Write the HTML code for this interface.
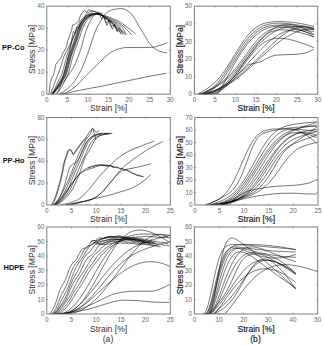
<!DOCTYPE html>
<html><head><meta charset="utf-8"><style>
html,body{margin:0;padding:0;background:#fff;width:324px;height:346px;overflow:hidden}
svg{display:block}
text{font-family:"Liberation Sans",sans-serif}
.ax{fill:none;stroke:#7d7d7d;stroke-width:1}
.tk{fill:none;stroke:#7d7d7d;stroke-width:0.8}
.tl{font-size:6.3px;fill:#666}
.labL{font-size:8.6px;fill:#333}
.labR{font-size:8.6px;fill:#222;stroke:#222;stroke-width:0.18}
.row{font-size:8px;font-weight:bold;fill:#111}
.cv path{fill:none;stroke:#000;stroke-opacity:0.6;stroke-width:0.9;stroke-linejoin:round;stroke-linecap:round}
</style></head><body>
<svg width="324" height="346" viewBox="0 0 324 346">
<g class="cv" clip-path="url(#clipTL)"><path d="M60.8 94.2C62.99 94.04 65.19 93.71 67.38 93.32C70.13 92.84 72.87 91.75 75.62 91.12C79.73 90.18 83.85 89.47 87.97 88.7C92.08 87.93 96.2 87.29 100.32 86.5C105.53 85.5 110.75 84.28 115.96 83.2C120.63 82.23 125.29 81.31 129.96 80.34C135.17 79.26 140.39 78.06 145.6 77.04C152.46 75.7 159.32 74.43 166.18 73.3"/><path d="M61.21 94.2C63.95 93.62 66.7 92.36 69.44 90.9C72.46 89.3 75.48 86.38 78.5 83.64C81.79 80.66 85.08 76.62 88.38 73.3C91.4 70.26 94.42 67.35 97.44 64.5C101.69 60.49 105.94 55.52 110.2 52.84C112.53 51.37 114.86 49.97 117.2 49.32C120.35 48.44 123.51 47.56 126.66 47.56C132.02 47.56 137.37 47.56 142.72 47.56C145.87 47.56 149.03 47.48 152.19 47.34C154.79 47.23 157.4 46.15 160.01 45.36C162.2 44.7 164.4 43.86 166.6 42.94"/><path d="M59.15 94.2C61.89 92.93 64.64 90.96 67.38 88.7C69.99 86.55 72.6 83.83 75.2 80.34C76.99 77.95 78.77 74.6 80.56 71.1C81.93 68.41 83.3 65.26 84.67 61.86C86.46 57.44 88.24 51.98 90.03 46.9C91.95 41.43 93.87 34.55 95.79 30.18C97.3 26.75 98.81 24.06 100.32 21.6C102.51 18.03 104.71 13.78 106.9 12.36C109.37 10.76 111.84 9.64 114.31 9.28C116.78 8.92 119.25 8.62 121.72 8.62C124.61 8.62 127.49 10.63 130.37 12.8C132.15 14.14 133.94 17.73 135.72 20.5C138.05 24.12 140.39 28.67 142.72 32.38C145.87 37.4 149.03 43.63 152.19 46.46C154.52 48.55 156.85 50.26 159.19 51.08C161.66 51.95 164.13 52.79 166.6 52.84"/><path d="M51.53 94.2C52.79 92.34 54.06 90.08 55.32 87.6C56.3 85.66 57.29 82.98 58.28 81C59.32 78.9 60.37 77.76 61.41 75.28C62.37 73 63.34 69.04 64.3 65.6C65.12 62.65 65.94 58.83 66.77 56.14C67.73 53 68.69 50.68 69.65 48C70.47 45.7 71.29 43.54 72.12 41.18C73.08 38.43 74.04 35.3 75 32.6C75.69 30.67 76.37 28.6 77.06 27.1C78.29 24.41 79.53 22.05 80.76 20.5C82.13 18.78 83.51 17.42 84.88 16.54C86.25 15.66 87.62 14.92 89 14.56C90.64 14.13 92.29 13.68 93.94 13.68C97.71 13.68 101.48 14.89 105.26 15.88C107.45 16.45 109.65 17.43 111.84 18.3C114.04 19.17 116.23 20 118.43 21.16C121.31 22.68 124.19 24.97 127.08 27.1C129.82 29.13 132.56 31.35 135.31 33.7"/><path d="M51.9 94.2C53.4 92.27 54.89 90.03 56.38 87.6C57.6 85.62 58.82 83.18 60.04 81C61.11 79.07 62.19 77.79 63.27 75.28C64.23 73.04 65.19 69.04 66.15 65.6C66.97 62.65 67.8 58.83 68.62 56.14C69.58 53 70.54 50.68 71.5 48C72.32 45.7 73.15 43.54 73.97 41.18C74.93 38.43 75.89 35.3 76.85 32.6C77.54 30.67 78.22 28.6 78.91 27.1C80.14 24.41 81.38 22.05 82.61 20.5C83.99 18.78 85.36 17.42 86.73 16.54C88.1 15.66 89.48 14.92 90.85 14.56C92.49 14.13 94.14 13.68 95.79 13.68C98.94 13.68 102.1 15.2 105.26 16.32C107.45 17.1 109.65 18.34 111.84 19.4C114.04 20.46 116.23 21.35 118.43 22.7C120.9 24.22 123.37 26.36 125.84 28.64C127.76 30.41 129.68 32.52 131.6 34.8"/><path d="M52.05 94.2C53.64 92.25 55.22 90.02 56.81 87.6C58.12 85.6 59.43 83.25 60.74 81C61.83 79.13 62.92 77.8 64.01 75.28C64.97 73.05 65.93 69.04 66.89 65.6C67.71 62.65 68.54 58.83 69.36 56.14C70.32 53 71.28 50.68 72.24 48C73.06 45.7 73.89 43.54 74.71 41.18C75.67 38.43 76.63 35.3 77.59 32.6C78.28 30.67 78.96 28.6 79.65 27.1C80.89 24.41 82.12 22.05 83.36 20.5C84.73 18.78 86.1 17.42 87.47 16.54C88.84 15.66 90.22 14.92 91.59 14.56C93.24 14.13 94.88 13.68 96.53 13.68C99.16 13.68 101.8 15.57 104.43 16.76C106.63 17.75 108.82 19.11 111.02 20.28C113.49 21.6 115.96 22.5 118.43 24.24C119.94 25.31 121.45 26.68 122.96 28.64C124.06 30.07 125.15 32.33 126.25 34.8"/><path d="M52.19 94.2C53.87 92.24 55.54 90 57.21 87.6C58.61 85.59 60.01 83.31 61.4 81C62.51 79.18 63.61 77.81 64.71 75.28C65.67 73.07 66.63 69.04 67.59 65.6C68.41 62.65 69.24 58.83 70.06 56.14C71.02 53 71.98 50.68 72.94 48C73.76 45.7 74.59 43.54 75.41 41.18C76.37 38.43 77.33 35.3 78.29 32.6C78.98 30.67 79.66 28.6 80.35 27.1C81.59 24.41 82.82 22.05 84.06 20.5C85.43 18.78 86.8 17.42 88.17 16.54C89.54 15.66 90.92 14.92 92.29 14.56C93.94 14.13 95.58 13.68 97.23 13.68C99.63 13.68 102.03 15.9 104.43 17.2C106.63 18.39 108.82 19.79 111.02 21.16C113.49 22.71 115.96 23.54 118.43 26C119.53 27.09 120.63 29.32 121.72 31.5"/><path d="M52.32 94.2C54.07 92.22 55.82 89.99 57.57 87.6C59.04 85.58 60.52 83.36 61.99 81C63.1 79.22 64.21 77.82 65.33 75.28C66.29 73.08 67.25 69.04 68.21 65.6C69.03 62.65 69.85 58.83 70.68 56.14C71.64 53 72.6 50.68 73.56 48C74.38 45.7 75.2 43.54 76.03 41.18C76.99 38.43 77.95 35.3 78.91 32.6C79.6 30.67 80.28 28.6 80.97 27.1C82.2 24.41 83.44 22.05 84.67 20.5C86.05 18.78 87.42 17.42 88.79 16.54C90.16 15.66 91.53 14.92 92.91 14.56C94.55 14.13 96.2 13.68 97.85 13.68C100.04 13.68 102.24 15.51 104.43 16.76C106.63 18.01 108.82 19.89 111.02 21.6C113.49 23.52 115.96 25.7 118.43 27.76C120.35 29.37 122.27 30.98 124.19 32.6"/><path d="M52.44 94.2C54.27 92.21 56.09 89.98 57.92 87.6C59.47 85.57 61.02 83.41 62.58 81C63.7 79.26 64.82 77.83 65.94 75.28C66.9 73.09 67.86 69.04 68.82 65.6C69.65 62.65 70.47 58.83 71.29 56.14C72.25 53 73.22 50.68 74.18 48C75 45.7 75.82 43.54 76.65 41.18C77.61 38.43 78.57 35.3 79.53 32.6C80.21 30.67 80.9 28.6 81.59 27.1C82.82 24.41 84.06 22.05 85.29 20.5C86.66 18.78 88.04 17.42 89.41 16.54C90.78 15.66 92.15 14.92 93.52 14.56C95.17 14.13 96.82 13.68 98.46 13.68C100.45 13.68 102.44 16.25 104.43 17.64C106.63 19.17 108.82 20.72 111.02 22.48C113.49 24.47 115.96 27 118.43 29.08C120.63 30.93 122.82 32.69 125.02 34.36"/><path d="M52.77 94.2C54.8 92.18 56.83 89.96 58.87 87.6C60.63 85.56 62.38 83.53 64.14 81C65.29 79.34 66.44 77.86 67.59 75.28C68.55 73.12 69.51 69.04 70.47 65.6C71.29 62.65 72.12 58.83 72.94 56.14C73.9 53 74.86 50.68 75.82 48C76.65 45.7 77.47 43.54 78.29 41.18C79.25 38.43 80.21 35.3 81.17 32.6C81.86 30.67 82.55 28.6 83.23 27.1C84.47 24.41 85.7 22.05 86.94 20.5C88.31 18.78 89.68 17.42 91.05 16.54C92.43 15.66 93.8 14.92 95.17 14.56C96.82 14.13 98.46 13.68 100.11 13.68C101.83 13.68 103.54 16.29 105.26 17.64C107.45 19.36 109.65 20.81 111.84 22.92C114.04 25.03 116.23 28.88 118.43 30.84C119.94 32.19 121.45 33.33 122.96 34.14"/><path d="M55.03 94.2C57.09 92.92 59.15 90.43 61.21 87.6C62.85 85.34 64.5 81.11 66.15 78.36C68.62 74.24 71.09 71.92 73.56 67.36C75.07 64.57 76.58 60.68 78.09 56.8C79.05 54.33 80.01 51.73 80.97 48.66C81.79 46.03 82.61 42.49 83.44 39.64C84.4 36.31 85.36 32.81 86.32 30.18C87.55 26.8 88.79 23.85 90.03 21.6C91.4 19.1 92.77 16.67 94.14 15.44C95.51 14.21 96.89 12.8 98.26 12.8C99.63 12.8 101 12.8 102.38 13.24"/><path d="M50.5 94.2C51.47 91.65 52.43 89.09 53.39 86.5C54.76 82.8 56.13 78.93 57.5 75.28C58.6 72.36 59.7 69.86 60.8 66.7C61.89 63.54 62.99 58.85 64.09 56.14C65.46 52.75 66.83 50.78 68.21 48C69.3 45.78 70.4 43.46 71.5 41.18C72.87 38.33 74.24 35.31 75.62 32.6C76.99 29.89 78.36 27.27 79.73 24.9C81.11 22.53 82.48 19.89 83.85 18.3C85.22 16.71 86.59 15.36 87.97 14.56C89.34 13.76 90.71 13.06 92.08 12.8"/><path d="M48.86 94.2 49.52 89.14 50.3 82.76 51.74 77.92 53.39 75.5 54.62 70.44 55.86 64.28 59.97 59.44 63.27 52.4 66.15 48 67.8 40.52 71.09 31.72 72.73 24.9 75.2 24.02 78.91 20.94 80.14 16.1 83.03 11.48 84.67 10.6 86.73 12.36 88.38 9.72 90.85 10.6 94.14 11.7 98.26 12.36"/><path d="M57.09 94.2C58.46 91.27 59.84 87.48 61.21 83.2C62.58 78.92 63.95 72.99 65.33 67.8C66.29 64.17 67.25 60.76 68.21 56.8C69.03 53.41 69.85 49.82 70.68 45.8C71.23 43.12 71.77 39.66 72.32 37C72.73 35.01 73.15 31.5 73.56 31.5C74.11 31.5 74.66 33.04 75.2 33.04C75.75 33.04 76.3 27.1 76.85 27.1C77.4 27.1 77.95 28.64 78.5 28.64C79.18 28.64 79.87 23.76 80.56 22.7C81.65 21 82.75 20.95 83.85 19.4C84.67 18.24 85.5 14.7 86.32 13.9C87.28 12.97 88.24 12.59 89.2 12.14C90.16 11.69 91.12 11.04 92.08 11.04C93.46 11.04 94.83 11.15 96.2 11.92"/><path d="M98.26 12.8 104.43 17.86 106.9 25.56 109.37 20.06 112.26 29.3 114.73 24.68 117.2 31.72 118.43 28.64 120.9 33.92"/><path d="M97.02 12.8 99.49 14.78 101.55 18.74 103.61 16.76 106.08 23.14 108.55 20.5 111.02 26.44 113.9 24.9 116.78 30.4"/></g>
<clipPath id="clipTL"><rect x="46.8" y="3.2" width="126.5" height="91"/></clipPath>
<rect class="ax" x="46.8" y="6.2" width="123.5" height="88"/>
<path class="tk" d="M67.38 94.2v-1.3M67.38 6.2v1.3M87.97 94.2v-1.3M87.97 6.2v1.3M108.55 94.2v-1.3M108.55 6.2v1.3M129.13 94.2v-1.3M129.13 6.2v1.3M149.72 94.2v-1.3M149.72 6.2v1.3M46.8 72.2h1.3M170.3 72.2h-1.3M46.8 50.2h1.3M170.3 50.2h-1.3M46.8 28.2h1.3M170.3 28.2h-1.3"/>
<text class="tl" x="46.8" y="101.7" text-anchor="middle">0</text>
<text class="tl" x="67.38" y="101.7" text-anchor="middle">5</text>
<text class="tl" x="87.97" y="101.7" text-anchor="middle">10</text>
<text class="tl" x="108.55" y="101.7" text-anchor="middle">15</text>
<text class="tl" x="129.13" y="101.7" text-anchor="middle">20</text>
<text class="tl" x="149.72" y="101.7" text-anchor="middle">25</text>
<text class="tl" x="170.3" y="101.7" text-anchor="middle">30</text>
<text class="tl" x="44.5" y="96.3" text-anchor="end">0</text>
<text class="tl" x="44.5" y="74.3" text-anchor="end">10</text>
<text class="tl" x="44.5" y="52.3" text-anchor="end">20</text>
<text class="tl" x="44.5" y="30.3" text-anchor="end">30</text>
<text class="tl" x="44.5" y="8.3" text-anchor="end">40</text>
<text class="labL" x="108.55" y="111" text-anchor="middle">Strain [%]</text>
<text class="labL" transform="translate(35.2 49.5) rotate(-90)" text-anchor="middle">Stress [MPa]</text>
<g class="cv" clip-path="url(#clipTR)"><path d="M197.69 94.2C198.1 93.97 199.33 93.27 200.15 92.81C200.98 92.34 201.8 91.88 202.62 91.4C203.44 90.92 204.26 90.44 205.09 89.93C205.91 89.42 206.73 88.9 207.55 88.34C208.37 87.78 209.2 87.2 210.02 86.58C210.84 85.95 211.66 85.3 212.48 84.6C213.31 83.9 214.13 83.16 214.95 82.37C215.77 81.57 216.59 80.74 217.42 79.85C218.24 78.96 219.06 78.02 219.88 77.03C220.7 76.04 221.53 75 222.35 73.91C223.17 72.82 223.99 71.68 224.81 70.5C225.64 69.32 226.46 68.09 227.28 66.84C228.1 65.58 228.92 64.28 229.75 62.96C230.57 61.65 231.39 60.3 232.21 58.95C233.03 57.6 233.86 56.22 234.68 54.86C235.5 53.5 236.32 52.13 237.14 50.79C237.97 49.44 238.79 48.1 239.61 46.81C240.43 45.51 241.25 44.23 242.08 43.01C242.9 41.78 243.72 40.59 244.54 39.46C245.36 38.32 246.19 37.24 247.01 36.21C247.83 35.19 248.65 34.22 249.47 33.32C250.3 32.42 251.12 31.57 251.94 30.79C252.76 30.02 253.58 29.3 254.41 28.65C255.23 27.99 256.05 27.4 256.87 26.86C257.69 26.32 258.52 25.84 259.34 25.41C260.16 24.98 260.98 24.6 261.8 24.27C262.63 23.93 263.45 23.64 264.27 23.38C265.09 23.12 265.91 22.91 266.74 22.72C267.56 22.53 268.38 22.38 269.2 22.24C270.02 22.11 270.85 22 271.67 21.91C272.49 21.82 273.31 21.76 274.13 21.7C274.96 21.65 275.78 21.62 276.6 21.59C277.42 21.57 278.24 21.56 279.07 21.56C279.89 21.56 280.71 21.57 281.53 21.59C282.35 21.61 283.18 21.64 284 21.68C284.82 21.72 285.64 21.77 286.46 21.82C287.29 21.88 288.11 21.94 288.93 22.01C289.75 22.08 290.57 22.16 291.4 22.25C292.22 22.34 293.04 22.43 293.86 22.53C294.68 22.63 295.51 22.74 296.33 22.86C297.15 22.97 297.97 23.1 298.79 23.23C299.62 23.36 300.44 23.5 301.26 23.64C302.08 23.79 302.9 23.94 303.73 24.1C304.55 24.26 305.37 24.43 306.19 24.6C307.01 24.78 307.84 24.96 308.66 25.15C309.48 25.34 310.3 25.54 311.12 25.74C311.95 25.95 313.18 26.27 313.59 26.38C314 26.48 313.59 26.38 313.59 26.38"/><path d="M198.51 94.2C199.33 94.05 200.15 93.88 200.98 93.68C201.8 93.48 202.62 93.25 203.44 92.98C204.26 92.71 205.09 92.39 205.91 92.03C206.73 91.67 207.55 91.24 208.37 90.77C209.2 90.3 210.02 89.75 210.84 89.16C211.66 88.57 212.48 87.9 213.31 87.19C214.13 86.47 214.95 85.68 215.77 84.84C216.59 84 217.42 83.09 218.24 82.13C219.06 81.17 219.88 80.14 220.7 79.07C221.53 78 222.35 76.87 223.17 75.71C223.99 74.55 224.81 73.33 225.64 72.08C226.46 70.84 227.28 69.56 228.1 68.26C228.92 66.96 229.75 65.63 230.57 64.29C231.39 62.96 232.21 61.6 233.03 60.26C233.86 58.92 234.68 57.56 235.5 56.23C236.32 54.9 237.14 53.57 237.97 52.27C238.79 50.97 239.61 49.69 240.43 48.45C241.25 47.2 242.08 45.98 242.9 44.81C243.72 43.65 244.54 42.51 245.36 41.43C246.19 40.34 247.01 39.3 247.83 38.32C248.65 37.33 249.47 36.39 250.3 35.51C251.12 34.63 251.94 33.8 252.76 33.03C253.58 32.26 254.41 31.53 255.23 30.87C256.05 30.2 256.87 29.58 257.69 29.02C258.52 28.46 259.34 27.95 260.16 27.49C260.98 27.03 261.8 26.6 262.63 26.23C263.45 25.86 264.27 25.53 265.09 25.24C265.91 24.95 266.74 24.69 267.56 24.48C268.38 24.26 269.2 24.07 270.02 23.92C270.85 23.77 271.67 23.63 272.49 23.54C273.31 23.44 274.13 23.35 274.96 23.3C275.78 23.25 276.6 23.2 277.42 23.2C278.24 23.19 279.07 23.19 279.89 23.19C280.71 23.19 281.53 23.24 282.35 23.28C283.18 23.31 284 23.37 284.82 23.43C285.64 23.49 286.46 23.57 287.29 23.65C288.11 23.72 288.93 23.81 289.75 23.91C290.57 24 291.4 24.11 292.22 24.21C293.04 24.32 293.86 24.43 294.68 24.55C295.51 24.67 296.33 24.79 297.15 24.92C297.97 25.05 298.79 25.18 299.62 25.32C300.44 25.46 301.26 25.6 302.08 25.75C302.9 25.89 303.73 26.04 304.55 26.2C305.37 26.35 306.19 26.51 307.01 26.67C307.84 26.83 308.66 27 309.48 27.17C310.3 27.34 311.12 27.51 311.95 27.69C312.49 27.8 313.04 27.92 313.59 28.05"/><path d="M199.33 94.2C200.15 94.11 200.98 93.99 201.8 93.85C202.62 93.71 203.44 93.53 204.26 93.32C205.09 93.11 205.91 92.85 206.73 92.54C207.55 92.24 208.37 91.87 209.2 91.45C210.02 91.04 210.84 90.54 211.66 90.01C212.48 89.47 213.31 88.85 214.13 88.19C214.95 87.53 215.77 86.78 216.59 85.99C217.42 85.2 218.24 84.33 219.06 83.41C219.88 82.49 220.7 81.5 221.53 80.47C222.35 79.44 223.17 78.34 223.99 77.21C224.81 76.08 225.64 74.88 226.46 73.67C227.28 72.45 228.1 71.19 228.92 69.91C229.75 68.63 230.57 67.31 231.39 65.99C232.21 64.67 233.03 63.33 233.86 61.99C234.68 60.66 235.5 59.31 236.32 57.98C237.14 56.65 237.97 55.32 238.79 54.03C239.61 52.73 240.43 51.45 241.25 50.2C242.08 48.96 242.9 47.74 243.72 46.57C244.54 45.39 245.36 44.25 246.19 43.17C247.01 42.08 247.83 41.03 248.65 40.04C249.47 39.06 250.3 38.11 251.12 37.23C251.94 36.35 252.76 35.51 253.58 34.74C254.41 33.97 255.23 33.24 256.05 32.58C256.87 31.91 257.69 31.29 258.52 30.74C259.34 30.18 260.16 29.66 260.98 29.21C261.8 28.75 262.63 28.33 263.45 27.97C264.27 27.6 265.09 27.27 265.91 26.99C266.74 26.71 267.56 26.46 268.38 26.25C269.2 26.05 270.02 25.86 270.85 25.72C271.67 25.58 272.49 25.45 273.31 25.37C274.13 25.28 274.96 25.2 275.78 25.16C276.6 25.12 277.42 25.08 278.24 25.08C279.07 25.08 279.89 25.09 280.71 25.11C281.53 25.12 282.35 25.17 283.18 25.21C284 25.26 284.82 25.32 285.64 25.39C286.46 25.46 287.29 25.54 288.11 25.62C288.93 25.71 289.75 25.8 290.57 25.9C291.4 26 292.22 26.1 293.04 26.21C293.86 26.32 294.68 26.44 295.51 26.56C296.33 26.68 297.15 26.8 297.97 26.93C298.79 27.06 299.62 27.19 300.44 27.33C301.26 27.46 302.08 27.6 302.9 27.75C303.73 27.89 304.55 28.04 305.37 28.19C306.19 28.34 307.01 28.49 307.84 28.64C308.66 28.8 309.48 28.96 310.3 29.12C311.12 29.28 311.95 29.45 312.77 29.62C313.04 29.67 313.32 29.73 313.59 29.79"/><path d="M200.15 94.2C200.98 94.2 201.8 94.2 202.62 94.2C203.44 94.2 204.26 94.2 205.09 94.2C205.91 94.2 206.73 94.2 207.55 94.2C208.37 94.2 209.2 94.2 210.02 94.2C210.84 94.2 211.66 94.2 212.48 94.2C213.31 94.2 214.13 94.2 214.95 94.2C215.77 94.2 216.59 94.17 217.42 94.11C218.24 94.05 219.06 91.54 219.88 90.17C220.7 88.81 221.53 87.37 222.35 85.91C223.17 84.46 223.99 82.96 224.81 81.46C225.64 79.95 226.46 78.42 227.28 76.9C228.1 75.38 228.92 73.85 229.75 72.33C230.57 70.82 231.39 69.31 232.21 67.82C233.03 66.34 233.86 64.86 234.68 63.43C235.5 61.99 236.32 60.57 237.14 59.19C237.97 57.82 238.79 56.47 239.61 55.16C240.43 53.86 241.25 52.59 242.08 51.37C242.9 50.14 243.72 48.96 244.54 47.82C245.36 46.69 246.19 45.59 247.01 44.55C247.83 43.51 248.65 42.51 249.47 41.56C250.3 40.61 251.12 39.71 251.94 38.86C252.76 38.01 253.58 37.2 254.41 36.44C255.23 35.68 256.05 34.97 256.87 34.31C257.69 33.64 258.52 33.02 259.34 32.45C260.16 31.88 260.98 31.34 261.8 30.86C262.63 30.38 263.45 29.93 264.27 29.53C265.09 29.13 265.91 28.76 266.74 28.44C267.56 28.12 268.38 27.83 269.2 27.58C270.02 27.34 270.85 27.11 271.67 26.93C272.49 26.76 273.31 26.6 274.13 26.48C274.96 26.37 275.78 26.26 276.6 26.21C277.42 26.16 278.24 26.1 279.07 26.1C279.89 26.1 280.71 26.11 281.53 26.12C282.35 26.14 283.18 26.21 284 26.28C284.82 26.34 285.64 26.44 286.46 26.54C287.29 26.63 288.11 26.76 288.93 26.88C289.75 27.01 290.57 27.15 291.4 27.3C292.22 27.45 293.04 27.61 293.86 27.77C294.68 27.93 295.51 28.1 296.33 28.28C297.15 28.45 297.97 28.63 298.79 28.81C299.62 28.98 300.44 29.16 301.26 29.34C302.08 29.52 302.9 29.7 303.73 29.87C304.55 30.04 305.37 30.21 306.19 30.37C307.01 30.54 307.84 30.7 308.66 30.85C309.48 30.99 310.3 31.14 311.12 31.27C311.95 31.4 312.77 31.52 313.59 31.64"/><path d="M200.98 94.2C201.8 93.74 202.62 93.29 203.44 92.84C204.26 92.39 205.09 91.96 205.91 91.52C206.73 91.08 207.55 90.64 208.37 90.2C209.2 89.76 210.02 89.32 210.84 88.87C211.66 88.42 212.48 87.97 213.31 87.5C214.13 87.03 214.95 86.55 215.77 86.05C216.59 85.54 217.42 85.03 218.24 84.49C219.06 83.94 219.88 83.38 220.7 82.79C221.53 82.2 222.35 81.58 223.17 80.93C223.99 80.28 224.81 79.59 225.64 78.87C226.46 78.16 227.28 77.4 228.1 76.62C228.92 75.83 229.75 75 230.57 74.15C231.39 73.29 232.21 72.39 233.03 71.46C233.86 70.53 234.68 69.56 235.5 68.56C236.32 67.56 237.14 66.53 237.97 65.48C238.79 64.42 239.61 63.33 240.43 62.23C241.25 61.14 242.08 60.01 242.9 58.88C243.72 57.75 244.54 56.6 245.36 55.46C246.19 54.32 247.01 53.17 247.83 52.04C248.65 50.91 249.47 49.78 250.3 48.68C251.12 47.57 251.94 46.48 252.76 45.43C253.58 44.38 254.41 43.35 255.23 42.37C256.05 41.38 256.87 40.43 257.69 39.53C258.52 38.64 259.34 37.78 260.16 36.98C260.98 36.18 261.8 35.42 262.63 34.73C263.45 34.04 264.27 33.38 265.09 32.8C265.91 32.22 266.74 31.68 267.56 31.21C268.38 30.73 269.2 30.3 270.02 29.93C270.85 29.56 271.67 29.23 272.49 28.96C273.31 28.69 274.13 28.44 274.96 28.26C275.78 28.08 276.6 27.91 277.42 27.81C278.24 27.7 279.07 27.6 279.89 27.56C280.71 27.53 281.53 27.5 282.35 27.5C283.18 27.5 284 27.55 284.82 27.59C285.64 27.63 286.46 27.72 287.29 27.81C288.11 27.89 288.93 28 289.75 28.12C290.57 28.24 291.4 28.38 292.22 28.53C293.04 28.67 293.86 28.84 294.68 29.01C295.51 29.18 296.33 29.36 297.15 29.55C297.97 29.74 298.79 29.95 299.62 30.16C300.44 30.37 301.26 30.59 302.08 30.82C302.9 31.05 303.73 31.29 304.55 31.53C305.37 31.78 306.19 32.04 307.01 32.3C307.84 32.57 308.66 32.84 309.48 33.12C310.3 33.4 311.12 33.69 311.95 33.99C312.49 34.19 313.04 34.39 313.59 34.6"/><path d="M201.8 94.2C202.62 93.77 203.44 93.34 204.26 92.92C205.09 92.5 205.91 92.09 206.73 91.68C207.55 91.26 208.37 90.86 209.2 90.44C210.02 90.03 210.84 89.62 211.66 89.2C212.48 88.78 213.31 88.35 214.13 87.91C214.95 87.47 215.77 87.02 216.59 86.55C217.42 86.08 218.24 85.6 219.06 85.09C219.88 84.58 220.7 84.05 221.53 83.49C222.35 82.93 223.17 82.35 223.99 81.73C224.81 81.11 225.64 80.46 226.46 79.78C227.28 79.1 228.1 78.38 228.92 77.62C229.75 76.87 230.57 76.07 231.39 75.24C232.21 74.42 233.03 73.55 233.86 72.64C234.68 71.74 235.5 70.8 236.32 69.83C237.14 68.86 237.97 67.85 238.79 66.82C239.61 65.79 240.43 64.72 241.25 63.64C242.08 62.56 242.9 61.45 243.72 60.34C244.54 59.23 245.36 58.09 246.19 56.97C247.01 55.84 247.83 54.71 248.65 53.59C249.47 52.47 250.3 51.35 251.12 50.26C251.94 49.17 252.76 48.09 253.58 47.05C254.41 46.01 255.23 44.99 256.05 44.03C256.87 43.06 257.69 42.12 258.52 41.24C259.34 40.36 260.16 39.51 260.98 38.73C261.8 37.95 262.63 37.21 263.45 36.54C264.27 35.87 265.09 35.24 265.91 34.68C266.74 34.12 267.56 33.6 268.38 33.15C269.2 32.7 270.02 32.29 270.85 31.95C271.67 31.61 272.49 31.3 273.31 31.05C274.13 30.8 274.96 30.58 275.78 30.42C276.6 30.26 277.42 30.12 278.24 30.04C279.07 29.96 279.89 29.86 280.71 29.86C281.53 29.85 282.35 29.85 283.18 29.85C284 29.85 284.82 29.93 285.64 29.99C286.46 30.05 287.29 30.14 288.11 30.24C288.93 30.34 289.75 30.46 290.57 30.59C291.4 30.72 292.22 30.86 293.04 31.02C293.86 31.17 294.68 31.34 295.51 31.51C296.33 31.69 297.15 31.88 297.97 32.07C298.79 32.27 299.62 32.48 300.44 32.69C301.26 32.9 302.08 33.13 302.9 33.36C303.73 33.59 304.55 33.83 305.37 34.08C306.19 34.33 307.01 34.58 307.84 34.85C308.66 35.11 309.48 35.38 310.3 35.67C311.12 35.95 311.95 36.24 312.77 36.53C313.04 36.63 313.32 36.73 313.59 36.83"/><path d="M202.62 94.2C203.44 94.13 204.26 94.03 205.09 93.92C205.91 93.81 206.73 93.66 207.55 93.49C208.37 93.31 209.2 93.1 210.02 92.86C210.84 92.62 211.66 92.32 212.48 92.01C213.31 91.69 214.13 91.32 214.95 90.91C215.77 90.51 216.59 90.06 217.42 89.58C218.24 89.09 219.06 88.56 219.88 87.99C220.7 87.42 221.53 86.8 222.35 86.15C223.17 85.5 223.99 84.8 224.81 84.08C225.64 83.35 226.46 82.58 227.28 81.78C228.1 80.98 228.92 80.14 229.75 79.28C230.57 78.41 231.39 77.51 232.21 76.59C233.03 75.67 233.86 74.72 234.68 73.76C235.5 72.79 236.32 71.79 237.14 70.79C237.97 69.79 238.79 68.76 239.61 67.74C240.43 66.71 241.25 65.66 242.08 64.62C242.9 63.58 243.72 62.53 244.54 61.48C245.36 60.44 246.19 59.39 247.01 58.35C247.83 57.31 248.65 56.28 249.47 55.26C250.3 54.24 251.12 53.23 251.94 52.24C252.76 51.25 253.58 50.27 254.41 49.32C255.23 48.37 256.05 47.44 256.87 46.53C257.69 45.63 258.52 44.74 259.34 43.89C260.16 43.03 260.98 42.2 261.8 41.41C262.63 40.61 263.45 39.84 264.27 39.11C265.09 38.38 265.91 37.67 266.74 37.01C267.56 36.34 268.38 35.7 269.2 35.1C270.02 34.5 270.85 33.93 271.67 33.4C272.49 32.87 273.31 32.36 274.13 31.9C274.96 31.43 275.78 30.99 276.6 30.59C277.42 30.2 278.24 29.82 279.07 29.49C279.89 29.15 280.71 28.84 281.53 28.56C282.35 28.29 283.18 28.04 284 27.82C284.82 27.6 285.64 27.4 286.46 27.24C287.29 27.08 288.11 26.93 288.93 26.81C289.75 26.7 290.57 26.6 291.4 26.53C292.22 26.46 293.04 26.39 293.86 26.37C294.68 26.35 295.51 26.34 296.33 26.34C297.15 26.34 297.97 26.37 298.79 26.4C299.62 26.43 300.44 26.5 301.26 26.56C302.08 26.63 302.9 26.72 303.73 26.81C304.55 26.9 305.37 27.01 306.19 27.13C307.01 27.25 307.84 27.38 308.66 27.52C309.48 27.65 310.3 27.8 311.12 27.96C311.95 28.12 312.77 28.28 313.59 28.46"/><path d="M203.44 94.2C204.26 93.95 205.09 93.7 205.91 93.45C206.73 93.2 207.55 92.96 208.37 92.71C209.2 92.45 210.02 92.2 210.84 91.93C211.66 91.66 212.48 91.38 213.31 91.08C214.13 90.78 214.95 90.46 215.77 90.12C216.59 89.78 217.42 89.41 218.24 89.01C219.06 88.62 219.88 88.19 220.7 87.73C221.53 87.27 222.35 86.76 223.17 86.23C223.99 85.7 224.81 85.12 225.64 84.5C226.46 83.89 227.28 83.22 228.1 82.52C228.92 81.83 229.75 81.08 230.57 80.3C231.39 79.51 232.21 78.68 233.03 77.82C233.86 76.96 234.68 76.05 235.5 75.11C236.32 74.18 237.14 73.2 237.97 72.2C238.79 71.2 239.61 70.17 240.43 69.13C241.25 68.09 242.08 67.01 242.9 65.94C243.72 64.87 244.54 63.78 245.36 62.71C246.19 61.63 247.01 60.54 247.83 59.48C248.65 58.41 249.47 57.35 250.3 56.32C251.12 55.29 251.94 54.28 252.76 53.3C253.58 52.33 254.41 51.38 255.23 50.48C256.05 49.59 256.87 48.72 257.69 47.91C258.52 47.1 259.34 46.32 260.16 45.62C260.98 44.91 261.8 44.24 262.63 43.63C263.45 43.03 264.27 42.47 265.09 41.98C265.91 41.48 266.74 41.03 267.56 40.64C268.38 40.26 269.2 39.91 270.02 39.63C270.85 39.34 271.67 39.09 272.49 38.9C273.31 38.71 274.13 38.54 274.96 38.44C275.78 38.34 276.6 38.23 277.42 38.22C278.24 38.21 279.07 38.2 279.89 38.2C280.71 38.2 281.53 38.28 282.35 38.35C283.18 38.42 284 38.53 284.82 38.65C285.64 38.76 286.46 38.91 287.29 39.06C288.11 39.22 288.93 39.39 289.75 39.58C290.57 39.76 291.4 39.96 292.22 40.17C293.04 40.38 293.86 40.6 294.68 40.83C295.51 41.06 296.33 41.31 297.15 41.55C297.97 41.8 298.79 42.06 299.62 42.33C300.44 42.59 301.26 42.87 302.08 43.15C302.9 43.43 303.73 43.72 304.55 44.01C305.37 44.31 306.19 44.61 307.01 44.92C307.84 45.23 308.66 45.55 309.48 45.87C310.3 46.2 311.12 46.53 311.95 46.86C312.49 47.09 313.04 47.32 313.59 47.55"/><path d="M204.26 94.2C205.09 94.2 205.91 94.2 206.73 94.2C207.55 94.2 208.37 94.2 209.2 94.2C210.02 94.2 210.84 94.2 211.66 94.2C212.48 94.2 213.31 94.2 214.13 94.2C214.95 94.2 215.77 93.6 216.59 93.22C217.42 92.83 218.24 92.33 219.06 91.83C219.88 91.32 220.7 90.76 221.53 90.17C222.35 89.58 223.17 88.95 223.99 88.29C224.81 87.63 225.64 86.93 226.46 86.21C227.28 85.49 228.1 84.73 228.92 83.96C229.75 83.19 230.57 82.38 231.39 81.56C232.21 80.75 233.03 79.9 233.86 79.05C234.68 78.2 235.5 77.32 236.32 76.44C237.14 75.56 237.97 74.66 238.79 73.75C239.61 72.85 240.43 71.93 241.25 71.01C242.08 70.09 242.9 69.17 243.72 68.24C244.54 67.31 245.36 66.38 246.19 65.45C247.01 64.51 247.83 63.58 248.65 62.65C249.47 61.73 250.3 60.8 251.12 59.88C251.94 58.97 252.76 58.05 253.58 57.15C254.41 56.25 255.23 55.35 256.05 54.47C256.87 53.58 257.69 52.71 258.52 51.85C259.34 50.99 260.16 50.15 260.98 49.32C261.8 48.49 262.63 47.68 263.45 46.88C264.27 46.09 265.09 45.31 265.91 44.56C266.74 43.81 267.56 43.07 268.38 42.36C269.2 41.65 270.02 40.96 270.85 40.3C271.67 39.64 272.49 39 273.31 38.39C274.13 37.78 274.96 37.19 275.78 36.64C276.6 36.08 277.42 35.55 278.24 35.06C279.07 34.57 279.89 34.09 280.71 33.66C281.53 33.23 282.35 32.83 283.18 32.46C284 32.1 284.82 31.76 285.64 31.46C286.46 31.17 287.29 30.9 288.11 30.68C288.93 30.46 289.75 30.25 290.57 30.11C291.4 29.97 292.22 29.83 293.04 29.78C293.86 29.73 294.68 29.68 295.51 29.68C296.33 29.68 297.15 29.75 297.97 29.82C298.79 29.89 299.62 30.06 300.44 30.22C301.26 30.38 302.08 30.62 302.9 30.87C303.73 31.13 304.55 31.45 305.37 31.79C306.19 32.14 307.01 32.54 307.84 32.98C308.66 33.41 309.48 33.91 310.3 34.44C311.12 34.97 311.95 35.56 312.77 36.18C313.04 36.38 313.32 36.6 313.59 36.82"/><path d="M205.09 94.2C205.91 93.87 206.73 93.55 207.55 93.23C208.37 92.91 209.2 92.6 210.02 92.28C210.84 91.95 211.66 91.63 212.48 91.3C213.31 90.96 214.13 90.62 214.95 90.27C215.77 89.91 216.59 89.55 217.42 89.17C218.24 88.8 219.06 88.41 219.88 88C220.7 87.6 221.53 87.18 222.35 86.74C223.17 86.31 223.99 85.85 224.81 85.39C225.64 84.92 226.46 84.44 227.28 83.93C228.1 83.43 228.92 82.91 229.75 82.38C230.57 81.85 231.39 81.29 232.21 80.72C233.03 80.15 233.86 79.57 234.68 78.96C235.5 78.36 236.32 77.74 237.14 77.1C237.97 76.47 238.79 75.81 239.61 75.15C240.43 74.48 241.25 73.8 242.08 73.1C242.9 72.4 243.72 71.69 244.54 70.96C245.36 70.24 246.19 69.5 247.01 68.75C247.83 68 248.65 67.24 249.47 66.47C250.3 65.7 251.12 64.91 251.94 64.13C252.76 63.34 253.58 62.54 254.41 61.73C255.23 60.93 256.05 60.12 256.87 59.3C257.69 58.49 258.52 57.67 259.34 56.85C260.16 56.03 260.98 55.2 261.8 54.38C262.63 53.56 263.45 52.73 264.27 51.92C265.09 51.1 265.91 50.28 266.74 49.47C267.56 48.66 268.38 47.85 269.2 47.06C270.02 46.26 270.85 45.47 271.67 44.7C272.49 43.92 273.31 43.15 274.13 42.4C274.96 41.65 275.78 40.91 276.6 40.19C277.42 39.47 278.24 38.77 279.07 38.09C279.89 37.4 280.71 36.74 281.53 36.1C282.35 35.46 283.18 34.84 284 34.25C284.82 33.66 285.64 33.09 286.46 32.56C287.29 32.03 288.11 31.52 288.93 31.05C289.75 30.58 290.57 30.13 291.4 29.72C292.22 29.32 293.04 28.94 293.86 28.62C294.68 28.29 295.51 27.98 296.33 27.74C297.15 27.49 297.97 27.26 298.79 27.11C299.62 26.95 300.44 26.79 301.26 26.74C302.08 26.7 302.9 26.66 303.73 26.66C304.55 26.66 305.37 26.78 306.19 26.88C307.01 26.99 307.84 27.2 308.66 27.42C309.48 27.64 310.3 27.95 311.12 28.29C311.95 28.62 312.77 29.04 313.59 29.5"/><path d="M205.91 94.2C206.73 93.96 207.55 93.71 208.37 93.45C209.2 93.2 210.02 92.94 210.84 92.66C211.66 92.38 212.48 92.1 213.31 91.8C214.13 91.5 214.95 91.18 215.77 90.85C216.59 90.52 217.42 90.17 218.24 89.81C219.06 89.45 219.88 89.07 220.7 88.68C221.53 88.28 222.35 87.87 223.17 87.44C223.99 87.01 224.81 86.56 225.64 86.09C226.46 85.62 227.28 85.14 228.1 84.64C228.92 84.14 229.75 83.62 230.57 83.08C231.39 82.54 232.21 81.99 233.03 81.42C233.86 80.85 234.68 80.26 235.5 79.66C236.32 79.06 237.14 78.44 237.97 77.8C238.79 77.17 239.61 76.52 240.43 75.86C241.25 75.2 242.08 74.53 242.9 73.84C243.72 73.16 244.54 72.46 245.36 71.75C246.19 71.04 247.01 70.32 247.83 69.59C248.65 68.87 249.47 68.13 250.3 67.39C251.12 66.65 251.94 65.9 252.76 65.14C253.58 64.39 254.41 63.63 255.23 62.87C256.05 62.11 256.87 61.35 257.69 60.58C258.52 59.82 259.34 59.06 260.16 58.29C260.98 57.53 261.8 56.77 262.63 56.01C263.45 55.26 264.27 54.5 265.09 53.76C265.91 53.01 266.74 52.27 267.56 51.54C268.38 50.81 269.2 50.08 270.02 49.37C270.85 48.65 271.67 47.95 272.49 47.26C273.31 46.57 274.13 45.89 274.96 45.22C275.78 44.56 276.6 43.9 277.42 43.27C278.24 42.64 279.07 42.01 279.89 41.41C280.71 40.81 281.53 40.22 282.35 39.66C283.18 39.1 284 38.55 284.82 38.02C285.64 37.5 286.46 36.99 287.29 36.5C288.11 36.02 288.93 35.56 289.75 35.12C290.57 34.68 291.4 34.26 292.22 33.86C293.04 33.47 293.86 33.1 294.68 32.75C295.51 32.41 296.33 32.08 297.15 31.78C297.97 31.49 298.79 31.21 299.62 30.96C300.44 30.72 301.26 30.49 302.08 30.29C302.9 30.1 303.73 29.92 304.55 29.78C305.37 29.63 306.19 29.5 307.01 29.41C307.84 29.32 308.66 29.23 309.48 29.2C310.3 29.17 311.12 29.14 311.95 29.14C312.49 29.14 313.04 29.15 313.59 29.18"/><path d="M202.62 94.2C203.44 94.2 204.26 94.2 205.09 94.2C205.91 94.2 206.73 94.2 207.55 94.2C208.37 94.2 209.2 94.2 210.02 94.2C210.84 94.2 211.66 93.96 212.48 93.78C213.31 93.6 214.13 93.3 214.95 93C215.77 92.69 216.59 92.31 217.42 91.9C218.24 91.49 219.06 91 219.88 90.48C220.7 89.96 221.53 89.37 222.35 88.75C223.17 88.12 223.99 87.43 224.81 86.71C225.64 85.98 226.46 85.19 227.28 84.37C228.1 83.55 228.92 82.67 229.75 81.76C230.57 80.85 231.39 79.89 232.21 78.91C233.03 77.92 233.86 76.89 234.68 75.84C235.5 74.78 236.32 73.69 237.14 72.59C237.97 71.48 238.79 70.34 239.61 69.19C240.43 68.05 241.25 66.87 242.08 65.7C242.9 64.52 243.72 63.33 244.54 62.14C245.36 60.96 246.19 59.76 247.01 58.57C247.83 57.38 248.65 56.19 249.47 55.02C250.3 53.85 251.12 52.68 251.94 51.54C252.76 50.39 253.58 49.26 254.41 48.15C255.23 47.05 256.05 45.96 256.87 44.91C257.69 43.86 258.52 42.83 259.34 41.84C260.16 40.85 260.98 39.88 261.8 38.97C262.63 38.05 263.45 37.16 264.27 36.32C265.09 35.48 265.91 34.67 266.74 33.91C267.56 33.16 268.38 32.43 269.2 31.77C270.02 31.1 270.85 30.47 271.67 29.89C272.49 29.31 273.31 28.77 274.13 28.29C274.96 27.81 275.78 27.36 276.6 26.97C277.42 26.58 278.24 26.22 279.07 25.92C279.89 25.62 280.71 25.35 281.53 25.15C282.35 24.94 283.18 24.75 284 24.64C284.82 24.52 285.64 24.39 286.46 24.38C287.29 24.37 288.11 24.36 288.93 24.36C289.75 24.36 290.57 24.48 291.4 24.58C292.22 24.67 293.04 24.83 293.86 25C294.68 25.17 295.51 25.39 296.33 25.63C297.15 25.86 297.97 26.14 298.79 26.43C299.62 26.73 300.44 27.06 301.26 27.41C302.08 27.76 302.9 28.14 303.73 28.54C304.55 28.93 305.37 29.36 306.19 29.8C307.01 30.24 307.84 30.71 308.66 31.19C309.48 31.68 310.3 32.18 311.12 32.7C311.95 33.22 312.77 33.76 313.59 34.31"/><path d="M202.62 94.2C205.36 94.2 208.1 93.68 210.84 93.14C213.58 92.61 216.32 91.24 219.06 89.8C221.8 88.36 224.54 85.95 227.28 83.64C230.02 81.33 232.76 78.03 235.5 75.72C238.24 73.41 240.98 71.8 243.72 69.56C245.64 67.99 247.56 65.22 249.47 64.46C252.9 63.09 256.32 63.1 259.75 61.99C263.04 60.92 266.32 58.22 269.61 57.06C271.94 56.25 274.27 55.33 276.6 55.13C280.3 54.81 284 54.75 287.7 54.6C290.85 54.47 294 54.44 297.15 54.25C299.89 54.08 302.63 53.51 305.37 52.84C308.11 52.17 310.85 50.85 313.59 49.32"/></g>
<clipPath id="clipTR"><rect x="194.4" y="3.2" width="126.3" height="91"/></clipPath>
<rect class="ax" x="194.4" y="6.2" width="123.3" height="88"/>
<path class="tk" d="M214.95 94.2v-1.3M214.95 6.2v1.3M235.5 94.2v-1.3M235.5 6.2v1.3M256.05 94.2v-1.3M256.05 6.2v1.3M276.6 94.2v-1.3M276.6 6.2v1.3M297.15 94.2v-1.3M297.15 6.2v1.3M194.4 76.6h1.3M317.7 76.6h-1.3M194.4 59h1.3M317.7 59h-1.3M194.4 41.4h1.3M317.7 41.4h-1.3M194.4 23.8h1.3M317.7 23.8h-1.3"/>
<text class="tl" x="194.4" y="101.7" text-anchor="middle">0</text>
<text class="tl" x="214.95" y="101.7" text-anchor="middle">5</text>
<text class="tl" x="235.5" y="101.7" text-anchor="middle">10</text>
<text class="tl" x="256.05" y="101.7" text-anchor="middle">15</text>
<text class="tl" x="276.6" y="101.7" text-anchor="middle">20</text>
<text class="tl" x="297.15" y="101.7" text-anchor="middle">25</text>
<text class="tl" x="317.7" y="101.7" text-anchor="middle">30</text>
<text class="tl" x="192.1" y="96.3" text-anchor="end">0</text>
<text class="tl" x="192.1" y="78.7" text-anchor="end">10</text>
<text class="tl" x="192.1" y="61.1" text-anchor="end">20</text>
<text class="tl" x="192.1" y="43.5" text-anchor="end">30</text>
<text class="tl" x="192.1" y="25.9" text-anchor="end">40</text>
<text class="tl" x="192.1" y="8.3" text-anchor="end">50</text>
<text class="labR" x="256.05" y="111" text-anchor="middle">Strain [%]</text>
<text class="labR" transform="translate(182.8 49.5) rotate(-90)" text-anchor="middle">Stress [MPa]</text>
<g class="cv" clip-path="url(#clipML)"><path d="M51.25 205C52.4 203.54 53.55 201.17 54.7 198.44C55.86 195.7 57.01 191.48 58.16 187.5C59.31 183.52 60.47 179.39 61.62 174.38C62.44 170.79 63.27 165.08 64.09 162.02C64.91 158.95 65.74 157.09 66.56 154.69C67.05 153.25 67.55 150.81 68.04 150.42C68.7 149.9 69.36 149.55 70.02 149.55C70.51 149.55 71.01 150.66 71.5 151.41C71.99 152.16 72.49 154.25 72.98 154.25C73.48 154.25 73.97 153.15 74.46 152.5C75.12 151.64 75.78 150.5 76.44 149.55C78.09 147.18 79.73 144.85 81.38 142.77C83.03 140.68 84.67 139.15 86.32 136.97C87.97 134.78 89.61 130.85 91.26 129.42C91.75 128.99 92.25 128.44 92.74 128.44C93.4 128.44 94.06 130.79 94.72 131.28C95.38 131.77 96.04 132.27 96.69 132.27C97.35 132.27 98.01 131.5 98.67 130.41" stroke-width="0.9"/><path d="M51.84 205.33C52.99 203.87 54.14 201.5 55.3 198.77C56.45 196.03 57.6 191.81 58.75 187.83C59.91 183.85 61.06 179.72 62.21 174.7C63.04 171.12 63.86 165.41 64.68 162.34C65.51 159.28 66.33 157.42 67.15 155.02C67.65 153.57 68.14 151.14 68.63 150.75C69.29 150.23 69.95 149.88 70.61 149.88C71.1 149.88 71.6 150.98 72.09 151.73C72.59 152.48 73.08 154.58 73.57 154.58C74.07 154.58 74.56 153.48 75.06 152.83C75.72 151.96 76.37 150.82 77.03 149.88C78.68 147.5 80.33 145.18 81.97 143.09C83.62 141.01 85.27 139.07 86.91 137.3"/><path d="M52.73 205C54.54 203.85 56.35 201.85 58.16 199.53C59.97 197.22 61.78 193.44 63.6 190.02C65.08 187.21 66.56 184.27 68.04 180.94C69.36 177.98 70.68 174.46 71.99 171.09C73.15 168.15 74.3 164.98 75.45 162.02C76.28 159.9 77.1 157.73 77.92 155.78C79.07 153.05 80.23 150.41 81.38 148.12C83.03 144.86 84.67 141.92 86.32 139.38C87.64 137.34 88.95 136.19 90.27 133.91C91.1 132.48 91.92 128.44 92.74 128.44C93.24 128.44 93.73 132.08 94.22 133.91C94.72 135.73 95.21 137.55 95.71 139.38"/><path d="M53.72 205C55.69 203.85 57.67 201.85 59.64 199.53C61.62 197.22 63.6 193.79 65.57 190.02C66.89 187.5 68.21 184.09 69.52 180.94C70.84 177.79 72.16 174.24 73.48 171.09C74.79 167.95 76.11 164.93 77.43 162.02C78.75 159.1 80.06 156.45 81.38 153.59C83.03 150.02 84.67 145.09 86.32 142.66C87.97 140.23 89.61 138.26 91.26 137.19C93.73 135.58 96.2 134.39 98.67 133.91C100.32 133.58 101.96 133.25 103.61 133.25C105.09 133.25 106.57 133.25 108.06 133.25"/><path d="M54.7 205C56.84 203.72 58.99 201.78 61.13 199.53C63.43 197.11 65.74 194.33 68.04 190.02C69.19 187.86 70.35 183.89 71.5 180.94C72.82 177.57 74.13 174.19 75.45 171.09C76.93 167.62 78.42 164.7 79.9 161.25C81.38 157.8 82.86 153.55 84.34 150.31C85.83 147.07 87.31 143.53 88.79 141.56C90.44 139.37 92.08 137.5 93.73 136.64C96.2 135.35 98.67 134.52 101.14 134.12C102.79 133.86 104.43 133.67 106.08 133.58C108.06 133.47 110.03 133.36 112.01 133.36"/><path d="M55.69 205C58 203.73 60.3 201.78 62.61 199.53C65.08 197.12 67.55 194.2 70.02 190.02C71.34 187.78 72.65 184.09 73.97 180.94C75.29 177.79 76.6 174.19 77.92 171.09C79.4 167.62 80.89 164.53 82.37 161.25C84.01 157.6 85.66 153.74 87.31 150.31C88.79 147.23 90.27 143.42 91.75 141.56C93.57 139.29 95.38 137.55 97.19 136.64C99.33 135.57 101.47 134.8 103.61 134.45C105.26 134.18 106.9 133.92 108.55 133.91"/><path d="M56.68 205C59.15 203.73 61.62 201.79 64.09 199.53C66.72 197.13 69.36 194.1 71.99 190.02C73.48 187.72 74.96 184.27 76.44 180.94C77.76 177.98 79.07 174.65 80.39 171.09C81.87 167.1 83.36 161.08 84.84 157.97C86.48 154.51 88.13 152.82 89.78 149.98C91.75 146.59 93.73 141.01 95.71 139.05C97.52 137.25 99.33 135.93 101.14 135.33C102.79 134.78 104.43 134.51 106.08 134.23C107.73 133.96 109.37 133.72 111.02 133.58"/><path d="M54.21 205C55.86 203.72 57.5 201.27 59.15 198.44C60.8 195.61 62.44 191.17 64.09 186.41C65.24 183.07 66.4 178.08 67.55 174.38C68.37 171.73 69.19 168.19 70.02 166.94C71.01 165.44 71.99 164.58 72.98 163.98C73.81 163.49 74.63 163.41 75.45 162.89C76.28 162.37 77.1 161.35 77.92 160.16C79.07 158.49 80.23 154.93 81.38 152.5C83.03 149.04 84.67 145 86.32 142.66C87.97 140.31 89.61 138.4 91.26 137.19C92.91 135.97 94.55 134.97 96.2 134.45C97.85 133.93 99.49 133.45 101.14 133.36"/><path d="M54.21 205C56.19 203.68 58.16 201.74 60.14 199.53C61.95 197.51 63.76 194.35 65.57 191.88C67.22 189.62 68.87 187.44 70.51 185.31C71.66 183.82 72.82 182.5 73.97 180.94C75.12 179.38 76.28 177.23 77.43 175.91C78.75 174.39 80.06 173.23 81.38 172.19C83.69 170.36 85.99 168.46 88.3 167.59C92.08 166.16 95.87 164.75 99.66 164.75C102.79 164.75 105.92 165.2 109.04 165.62C112.67 166.12 116.29 167.49 119.91 168.47C123.21 169.36 126.5 169.84 129.79 171.2C131.11 171.75 132.43 173.25 133.74 173.83C137.04 175.26 140.33 176.66 143.62 176.78" stroke-width="0.9"/><path d="M88.3 167.94 90.03 167.85 91.75 166.43 93.48 167.14 95.21 165.79 96.94 165.69 98.67 165.87 100.4 164.8 102.13 165.89 103.86 165.27 105.59 166.15 107.31 166.27 109.04 165.77 110.77 165.43 112.5 167.27 114.23 167.53 115.96 167.18 117.69 167.01 119.42 168.19 121.15 169.01 122.88 168.35 124.6 170.66 126.33 169.54 128.06 171.14 129.79 171.9 131.52 173.1 133.25 173.88 134.98 173.57 136.71 175.34 138.44 175.07 140.17 175.47 141.9 176.52" stroke-width="0.6"/><path d="M55.2 205C57.17 203.68 59.15 201.74 61.13 199.53C62.94 197.51 64.75 194.55 66.56 191.88C68.21 189.44 69.85 186.57 71.5 184.22C73.15 181.86 74.79 179.54 76.44 177.66C77.92 175.96 79.4 174.28 80.89 173.17C82.7 171.82 84.51 170.74 86.32 170C88.95 168.92 91.59 168.52 94.22 167.59C96.04 166.96 97.85 165.52 99.66 165.41C101.8 165.27 103.94 165.19 106.08 165.19C108.55 165.19 111.02 165.89 113.49 166.72"/><path d="M60.14 205C63.1 204.56 66.07 203.85 69.03 203.03C71.83 202.26 74.63 201.39 77.43 199.97C81.22 198.04 85 193.69 88.79 189.69C92.41 185.86 96.04 180 99.66 175.91C102.46 172.74 105.26 170.03 108.06 167.27C110.86 164.5 113.65 161.51 116.45 159.28C120.24 156.27 124.03 153.6 127.82 151.62C131.77 149.56 135.72 148.18 139.67 146.59C144.28 144.74 148.89 142.98 153.5 141.34"/><path d="M65.08 205C68.87 204.29 72.65 203.56 76.44 202.81C81.05 201.9 85.66 201.42 90.27 199.97C93.4 198.98 96.53 196.81 99.66 194.39C102.13 192.48 104.6 189.21 107.07 186.41C109.21 183.98 111.35 181.33 113.49 178.75C116.29 175.37 119.09 171.2 121.89 168.47C125.84 164.62 129.79 161.96 133.74 159.06C138.35 155.68 142.97 152.43 147.58 149.66C152.52 146.68 157.46 143.97 162.4 141.67"/><path d="M66.07 205C69.85 204.35 73.64 203.61 77.43 202.81C82.04 201.84 86.65 201.18 91.26 199.53C94.39 198.42 97.52 196.08 100.65 193.52C103.12 191.49 105.59 188.15 108.06 185.31C110.2 182.85 112.34 179.9 114.48 177.66C116.62 175.41 118.76 172.91 120.9 171.64C122.55 170.67 124.19 169.91 125.84 169.45C128.31 168.77 130.78 168.54 133.25 168.03C136.54 167.36 139.84 166.64 143.13 165.84C145.6 165.24 148.07 164.58 150.54 163.88"/><path d="M69.03 205C72.32 204.41 75.62 203.66 78.91 202.81C82.04 202.01 85.17 200.78 88.3 199.97C94.88 198.25 101.47 197.31 108.06 195.59C111.51 194.69 114.97 193.48 118.43 192.42C122.22 191.26 126 190.4 129.79 188.92C133.41 187.5 137.04 185.5 140.66 183.12C143.95 180.97 147.25 178.07 150.54 174.81" stroke-width="0.9"/></g>
<clipPath id="clipML"><rect x="46.8" y="114.5" width="126.5" height="90.5"/></clipPath>
<rect class="ax" x="46.8" y="117.5" width="123.5" height="87.5"/>
<path class="tk" d="M71.5 205v-1.3M71.5 117.5v1.3M96.2 205v-1.3M96.2 117.5v1.3M120.9 205v-1.3M120.9 117.5v1.3M145.6 205v-1.3M145.6 117.5v1.3M46.8 183.12h1.3M170.3 183.12h-1.3M46.8 161.25h1.3M170.3 161.25h-1.3M46.8 139.38h1.3M170.3 139.38h-1.3"/>
<text class="tl" x="46.8" y="212.5" text-anchor="middle">0</text>
<text class="tl" x="71.5" y="212.5" text-anchor="middle">5</text>
<text class="tl" x="96.2" y="212.5" text-anchor="middle">10</text>
<text class="tl" x="120.9" y="212.5" text-anchor="middle">15</text>
<text class="tl" x="145.6" y="212.5" text-anchor="middle">20</text>
<text class="tl" x="170.3" y="212.5" text-anchor="middle">25</text>
<text class="tl" x="44.5" y="207.1" text-anchor="end">0</text>
<text class="tl" x="44.5" y="185.22" text-anchor="end">20</text>
<text class="tl" x="44.5" y="163.35" text-anchor="end">40</text>
<text class="tl" x="44.5" y="141.47" text-anchor="end">60</text>
<text class="tl" x="44.5" y="119.6" text-anchor="end">80</text>
<text class="labL" x="108.55" y="222.2" text-anchor="middle">Strain [%]</text>
<text class="labL" transform="translate(35.2 160.55) rotate(-90)" text-anchor="middle">Stress [MPa]</text>
<g class="cv" clip-path="url(#clipMR)"><path d="M204.66 205C205.64 204.67 206.63 204.34 207.61 204.01C208.6 203.67 209.58 203.35 210.57 203C211.56 202.65 212.54 202.3 213.53 201.89C214.51 201.48 215.5 201.05 216.48 200.54C217.47 200.04 218.45 199.47 219.44 198.82C220.43 198.17 221.41 197.41 222.4 196.56C223.38 195.71 224.37 194.72 225.35 193.62C226.34 192.52 227.32 191.26 228.31 189.89C229.3 188.51 230.28 186.96 231.27 185.3C232.25 183.65 233.24 181.8 234.22 179.89C235.21 177.97 236.2 175.89 237.18 173.77C238.17 171.65 239.15 169.39 240.14 167.16C241.12 164.93 242.11 162.61 243.09 160.38C244.08 158.15 245.07 155.89 246.05 153.78C247.04 151.67 248.02 149.58 249.01 147.7C249.99 145.82 250.98 144.01 251.96 142.44C252.95 140.86 253.94 139.39 254.92 138.15C255.91 136.92 256.89 135.79 257.88 134.89C258.86 133.98 259.85 133.18 260.84 132.56C261.82 131.94 262.81 131.41 263.79 131.01C264.78 130.61 265.76 130.28 266.75 130.04C267.73 129.8 268.72 129.6 269.71 129.46C270.69 129.32 271.68 129.21 272.66 129.13C273.65 129.05 274.63 128.99 275.62 128.94C276.6 128.9 277.59 128.87 278.58 128.85C279.56 128.83 280.55 128.82 281.53 128.82C282.52 128.82 283.5 128.82 284.49 128.83C285.48 128.83 286.46 128.86 287.45 128.88C288.43 128.9 289.42 128.94 290.4 128.97C291.39 129.01 292.37 129.05 293.36 129.1C294.35 129.15 295.33 129.21 296.32 129.27C297.3 129.34 298.29 129.41 299.27 129.48C300.26 129.56 301.24 129.64 302.23 129.73C303.22 129.82 304.2 129.91 305.19 130.01C306.17 130.11 307.16 130.22 308.14 130.34C309.13 130.45 310.12 130.57 311.1 130.7C312.09 130.82 313.07 130.96 314.06 131.1C314.88 131.21 315.7 131.34 316.52 131.46"/><path d="M207.12 205C208.11 204.48 209.09 203.98 210.08 203.48C211.06 202.97 212.05 202.48 213.03 201.99C214.02 201.5 215 201.02 215.99 200.54C216.98 200.06 217.96 199.59 218.95 199.1C219.93 198.62 220.92 198.14 221.9 197.63C222.89 197.11 223.88 196.6 224.86 196.02C225.85 195.44 226.83 194.84 227.82 194.15C228.8 193.46 229.79 192.69 230.77 191.81C231.76 190.93 232.75 189.92 233.73 188.76C234.72 187.61 235.7 186.26 236.69 184.74C237.67 183.22 238.66 181.45 239.64 179.52C240.63 177.59 241.62 175.35 242.6 173.03C243.59 170.7 244.57 168.07 245.56 165.46C246.54 162.86 247.53 160.02 248.52 157.38C249.5 154.74 250.49 151.99 251.47 149.61C252.46 147.24 253.44 144.89 254.43 143.03C255.41 141.17 256.4 139.45 257.39 138.2C258.37 136.94 259.36 135.87 260.34 135.12C261.33 134.37 262.31 133.78 263.3 133.34C264.28 132.9 265.27 132.58 266.26 132.28C267.24 131.99 268.23 131.76 269.21 131.53C270.2 131.3 271.18 131.09 272.17 130.88C273.16 130.68 274.14 130.48 275.13 130.29C276.11 130.1 277.1 129.92 278.08 129.75C279.07 129.57 280.05 129.4 281.04 129.24C282.03 129.08 283.01 128.93 284 128.78C284.98 128.63 285.97 128.49 286.95 128.36C287.94 128.23 288.92 128.1 289.91 127.99C290.9 127.87 291.88 127.75 292.87 127.65C293.85 127.55 294.84 127.45 295.82 127.36C296.81 127.27 297.8 127.19 298.78 127.11C299.77 127.03 300.75 126.96 301.74 126.9C302.72 126.84 303.71 126.79 304.69 126.74C305.68 126.69 306.67 126.65 307.65 126.62C308.64 126.59 309.62 126.56 310.61 126.54C311.59 126.52 312.58 126.5 313.56 126.5C314.55 126.5 315.54 126.5 316.52 126.51"/><path d="M209.58 205C210.57 204.67 211.56 204.35 212.54 204.02C213.53 203.69 214.51 203.37 215.5 203.03C216.48 202.69 217.47 202.35 218.45 201.98C219.44 201.61 220.43 201.22 221.41 200.8C222.4 200.38 223.38 199.93 224.37 199.43C225.35 198.93 226.34 198.38 227.32 197.78C228.31 197.18 229.3 196.51 230.28 195.78C231.27 195.05 232.25 194.23 233.24 193.35C234.22 192.47 235.21 191.49 236.2 190.44C237.18 189.4 238.17 188.24 239.15 187.02C240.14 185.79 241.12 184.46 242.11 183.06C243.09 181.66 244.08 180.16 245.07 178.6C246.05 177.04 247.04 175.39 248.02 173.7C249.01 172.01 249.99 170.24 250.98 168.47C251.96 166.69 252.95 164.85 253.94 163.03C254.92 161.22 255.91 159.37 256.89 157.57C257.88 155.77 258.86 153.96 259.85 152.24C260.84 150.51 261.82 148.81 262.81 147.21C263.79 145.61 264.78 144.05 265.76 142.62C266.75 141.19 267.73 139.82 268.72 138.59C269.71 137.35 270.69 136.19 271.68 135.16C272.66 134.12 273.65 133.17 274.63 132.33C275.62 131.5 276.6 130.74 277.59 130.09C278.58 129.43 279.56 128.84 280.55 128.34C281.53 127.84 282.52 127.39 283.5 127.01C284.49 126.63 285.48 126.29 286.46 126C287.45 125.71 288.43 125.45 289.42 125.22C290.4 125 291.39 124.8 292.37 124.61C293.36 124.43 294.35 124.27 295.33 124.12C296.32 123.96 297.3 123.82 298.29 123.69C299.27 123.56 300.26 123.43 301.24 123.31C302.23 123.19 303.22 123.08 304.2 122.97C305.19 122.86 306.17 122.76 307.16 122.66C308.14 122.56 309.13 122.46 310.12 122.37C311.1 122.28 312.09 122.19 313.07 122.1C314.06 122.01 315.04 121.93 316.03 121.85C316.19 121.84 316.36 121.83 316.52 121.81"/><path d="M209.58 205C210.57 204.86 211.56 204.71 212.54 204.55C213.53 204.39 214.51 204.25 215.5 204.06C216.48 203.88 217.47 203.68 218.45 203.45C219.44 203.21 220.43 202.93 221.41 202.61C222.4 202.29 223.38 201.91 224.37 201.48C225.35 201.05 226.34 200.55 227.32 200C228.31 199.44 229.3 198.8 230.28 198.1C231.27 197.4 232.25 196.61 233.24 195.76C234.22 194.91 235.21 193.96 236.2 192.95C237.18 191.94 238.17 190.84 239.15 189.68C240.14 188.51 241.12 187.26 242.11 185.95C243.09 184.64 244.08 183.25 245.07 181.81C246.05 180.38 247.04 178.87 248.02 177.33C249.01 175.79 249.99 174.18 250.98 172.57C251.96 170.95 252.95 169.29 253.94 167.63C254.92 165.97 255.91 164.28 256.89 162.62C257.88 160.95 258.86 159.27 259.85 157.64C260.84 156.01 261.82 154.38 262.81 152.82C263.79 151.25 264.78 149.71 265.76 148.25C266.75 146.79 267.73 145.37 268.72 144.04C269.71 142.72 270.69 141.44 271.68 140.28C272.66 139.11 273.65 138 274.63 137.02C275.62 136.03 276.6 135.11 277.59 134.32C278.58 133.53 279.56 132.79 280.55 132.2C281.53 131.6 282.52 131.06 283.5 130.66C284.49 130.27 285.48 129.9 286.46 129.71C287.45 129.51 288.43 129.29 289.42 129.29C290.4 129.29 291.39 129.33 292.37 129.39C293.36 129.44 294.35 129.71 295.33 129.94C296.32 130.18 297.3 130.53 298.29 130.91C299.27 131.28 300.26 131.74 301.24 132.22C302.23 132.71 303.22 133.27 304.2 133.85C305.19 134.43 306.17 135.07 307.16 135.74C308.14 136.4 309.13 137.11 310.12 137.85C311.1 138.58 312.09 139.35 313.07 140.14C314.06 140.93 315.04 141.76 316.03 142.6C316.19 142.74 316.36 142.88 316.52 143.02"/><path d="M212.05 205C213.03 204.91 214.02 204.8 215 204.67C215.99 204.55 216.98 204.41 217.96 204.24C218.95 204.08 219.93 203.87 220.92 203.63C221.9 203.38 222.89 203.08 223.88 202.74C224.86 202.4 225.85 201.99 226.83 201.53C227.82 201.07 228.8 200.53 229.79 199.93C230.77 199.33 231.76 198.64 232.75 197.9C233.73 197.15 234.72 196.31 235.7 195.41C236.69 194.51 237.67 193.51 238.66 192.46C239.64 191.4 240.63 190.25 241.62 189.05C242.6 187.85 243.59 186.56 244.57 185.23C245.56 183.9 246.54 182.48 247.53 181.04C248.52 179.6 249.5 178.1 250.49 176.58C251.47 175.06 252.46 173.49 253.44 171.92C254.43 170.35 255.41 168.75 256.4 167.17C257.39 165.59 258.37 164 259.36 162.44C260.34 160.89 261.33 159.33 262.31 157.83C263.3 156.33 264.28 154.86 265.27 153.44C266.26 152.03 267.24 150.65 268.23 149.35C269.21 148.05 270.2 146.8 271.18 145.62C272.17 144.45 273.16 143.33 274.14 142.3C275.13 141.26 276.11 140.28 277.1 139.38C278.08 138.49 279.07 137.65 280.05 136.88C281.04 136.12 282.03 135.41 283.01 134.77C284 134.14 284.98 133.55 285.97 133.02C286.95 132.49 287.94 132.01 288.92 131.57C289.91 131.14 290.9 130.74 291.88 130.39C292.87 130.03 293.85 129.7 294.84 129.41C295.82 129.11 296.81 128.84 297.8 128.59C298.78 128.34 299.77 128.12 300.75 127.9C301.74 127.69 302.72 127.49 303.71 127.3C304.69 127.1 305.68 126.93 306.67 126.75C307.65 126.58 308.64 126.41 309.62 126.25C310.61 126.08 311.59 125.93 312.58 125.77C313.56 125.61 314.55 125.46 315.54 125.3C315.86 125.25 316.19 125.2 316.52 125.15"/><path d="M212.05 205C213.03 205 214.02 205 215 205C215.99 205 216.98 205 217.96 205C218.95 205 219.93 204.99 220.92 204.97C221.9 204.96 222.89 204.65 223.88 204.42C224.86 204.18 225.85 203.84 226.83 203.46C227.82 203.08 228.8 202.6 229.79 202.07C230.77 201.53 231.76 200.89 232.75 200.2C233.73 199.5 234.72 198.7 235.7 197.84C236.69 196.98 237.67 196.01 238.66 194.99C239.64 193.98 240.63 192.86 241.62 191.69C242.6 190.52 243.59 189.26 244.57 187.96C245.56 186.66 246.54 185.28 247.53 183.87C248.52 182.46 249.5 180.98 250.49 179.48C251.47 177.99 252.46 176.44 253.44 174.89C254.43 173.34 255.41 171.75 256.4 170.18C257.39 168.61 258.37 167.01 259.36 165.45C260.34 163.89 261.33 162.32 262.31 160.8C263.3 159.28 264.28 157.77 265.27 156.32C266.26 154.87 267.24 153.44 268.23 152.09C269.21 150.74 270.2 149.42 271.18 148.19C272.17 146.96 273.16 145.77 274.14 144.68C275.13 143.59 276.11 142.55 277.1 141.6C278.08 140.66 279.07 139.77 280.05 138.98C281.04 138.19 282.03 137.46 283.01 136.83C284 136.2 284.98 135.61 285.97 135.14C286.95 134.66 287.94 134.23 288.92 133.9C289.91 133.57 290.9 133.27 291.88 133.08C292.87 132.89 293.85 132.69 294.84 132.64C295.82 132.59 296.81 132.55 297.8 132.55C298.78 132.55 299.77 132.66 300.75 132.76C301.74 132.86 302.72 133.05 303.71 133.24C304.69 133.43 305.68 133.68 306.67 133.94C307.65 134.2 308.64 134.5 309.62 134.82C310.61 135.14 311.59 135.5 312.58 135.86C313.56 136.23 314.55 136.63 315.54 137.03C315.86 137.17 316.19 137.31 316.52 137.45"/><path d="M214.51 205C215.5 204.91 216.48 204.8 217.47 204.68C218.45 204.57 219.44 204.44 220.43 204.29C221.41 204.15 222.4 203.97 223.38 203.77C224.37 203.57 225.35 203.32 226.34 203.04C227.32 202.77 228.31 202.43 229.3 202.06C230.28 201.68 231.27 201.23 232.25 200.74C233.24 200.25 234.22 199.68 235.21 199.05C236.2 198.42 237.18 197.71 238.17 196.93C239.15 196.16 240.14 195.29 241.12 194.37C242.11 193.44 243.09 192.42 244.08 191.34C245.07 190.26 246.05 189.09 247.04 187.86C248.02 186.64 249.01 185.32 249.99 183.97C250.98 182.61 251.96 181.17 252.95 179.71C253.94 178.24 254.92 176.71 255.91 175.17C256.89 173.62 257.88 172.03 258.86 170.44C259.85 168.85 260.84 167.22 261.82 165.63C262.81 164.03 263.79 162.42 264.78 160.85C265.76 159.28 266.75 157.72 267.73 156.22C268.72 154.72 269.71 153.24 270.69 151.83C271.68 150.42 272.66 149.05 273.65 147.76C274.63 146.48 275.62 145.24 276.6 144.08C277.59 142.93 278.58 141.83 279.56 140.81C280.55 139.8 281.53 138.84 282.52 137.96C283.5 137.09 284.49 136.27 285.48 135.52C286.46 134.77 287.45 134.07 288.43 133.44C289.42 132.8 290.4 132.21 291.39 131.67C292.37 131.13 293.36 130.64 294.35 130.17C295.33 129.71 296.32 129.28 297.3 128.88C298.29 128.47 299.27 128.1 300.26 127.73C301.24 127.37 302.23 127.03 303.22 126.7C304.2 126.37 305.19 126.05 306.17 125.74C307.16 125.42 308.14 125.12 309.13 124.81C310.12 124.51 311.1 124.21 312.09 123.91C313.07 123.61 314.06 123.31 315.04 123.02C315.54 122.87 316.03 122.72 316.52 122.57"/><path d="M214.51 205C215.5 205 216.48 205 217.47 205C218.45 205 219.44 205 220.43 205C221.41 205 222.4 205 223.38 205C224.37 205 225.35 204.81 226.34 204.64C227.32 204.47 228.31 204.15 229.3 203.83C230.28 203.51 231.27 203.09 232.25 202.64C233.24 202.18 234.22 201.63 235.21 201.03C236.2 200.43 237.18 199.74 238.17 198.99C239.15 198.25 240.14 197.42 241.12 196.53C242.11 195.65 243.09 194.68 244.08 193.66C245.07 192.64 246.05 191.54 247.04 190.4C248.02 189.26 249.01 188.05 249.99 186.8C250.98 185.55 251.96 184.23 252.95 182.89C253.94 181.56 254.92 180.16 255.91 178.76C256.89 177.35 257.88 175.9 258.86 174.45C259.85 173 260.84 171.52 261.82 170.05C262.81 168.59 263.79 167.1 264.78 165.64C265.76 164.18 266.75 162.72 267.73 161.29C268.72 159.86 269.71 158.44 270.69 157.07C271.68 155.7 272.66 154.35 273.65 153.05C274.63 151.76 275.62 150.5 276.6 149.31C277.59 148.11 278.58 146.95 279.56 145.87C280.55 144.79 281.53 143.76 282.52 142.8C283.5 141.85 284.49 140.94 285.48 140.13C286.46 139.31 287.45 138.54 288.43 137.86C289.42 137.18 290.4 136.55 291.39 136.01C292.37 135.47 293.36 134.98 294.35 134.58C295.33 134.18 296.32 133.82 297.3 133.55C298.29 133.29 299.27 133.04 300.26 132.92C301.24 132.79 302.23 132.64 303.22 132.64C304.2 132.64 305.19 132.67 306.17 132.7C307.16 132.73 308.14 132.91 309.13 133.06C310.12 133.22 311.1 133.45 312.09 133.7C313.07 133.94 314.06 134.25 315.04 134.57C315.54 134.73 316.03 134.9 316.52 135.08"/><path d="M216.98 205C217.96 204.84 218.95 204.67 219.93 204.5C220.92 204.32 221.9 204.15 222.89 203.97C223.88 203.78 224.86 203.59 225.85 203.38C226.83 203.17 227.82 202.94 228.8 202.68C229.79 202.42 230.77 202.13 231.76 201.81C232.75 201.49 233.73 201.13 234.72 200.72C235.7 200.32 236.69 199.86 237.67 199.35C238.66 198.85 239.64 198.27 240.63 197.65C241.62 197.02 242.6 196.32 243.59 195.56C244.57 194.8 245.56 193.96 246.54 193.06C247.53 192.15 248.52 191.16 249.5 190.11C250.49 189.07 251.47 187.93 252.46 186.74C253.44 185.54 254.43 184.27 255.41 182.94C256.4 181.62 257.39 180.22 258.37 178.79C259.36 177.36 260.34 175.86 261.33 174.35C262.31 172.83 263.3 171.27 264.28 169.71C265.27 168.15 266.26 166.55 267.24 164.98C268.23 163.42 269.21 161.84 270.2 160.3C271.18 158.77 272.17 157.24 273.16 155.78C274.14 154.32 275.13 152.89 276.11 151.54C277.1 150.18 278.08 148.87 279.07 147.65C280.05 146.44 281.04 145.27 282.03 144.2C283.01 143.14 284 142.13 284.98 141.22C285.97 140.31 286.95 139.46 287.94 138.71C288.92 137.95 289.91 137.26 290.9 136.65C291.88 136.03 292.87 135.48 293.85 134.99C294.84 134.5 295.82 134.06 296.81 133.67C297.8 133.29 298.78 132.95 299.77 132.64C300.75 132.34 301.74 132.07 302.72 131.83C303.71 131.59 304.69 131.37 305.68 131.17C306.67 130.98 307.65 130.8 308.64 130.63C309.62 130.46 310.61 130.31 311.59 130.16C312.58 130.02 313.56 129.88 314.55 129.75C315.21 129.66 315.86 129.57 316.52 129.48"/><path d="M216.98 205C217.96 204.78 218.95 204.57 219.93 204.35C220.92 204.13 221.9 203.91 222.89 203.68C223.88 203.46 224.86 203.23 225.85 202.99C226.83 202.75 227.82 202.5 228.8 202.23C229.79 201.97 230.77 201.69 231.76 201.39C232.75 201.08 233.73 200.76 234.72 200.4C235.7 200.05 236.69 199.66 237.67 199.23C238.66 198.8 239.64 198.33 240.63 197.81C241.62 197.3 242.6 196.72 243.59 196.1C244.57 195.48 245.56 194.78 246.54 194.04C247.53 193.29 248.52 192.46 249.5 191.58C250.49 190.69 251.47 189.72 252.46 188.69C253.44 187.67 254.43 186.55 255.41 185.38C256.4 184.21 257.39 182.96 258.37 181.66C259.36 180.36 260.34 178.98 261.33 177.57C262.31 176.16 263.3 174.68 264.28 173.2C265.27 171.72 266.26 170.18 267.24 168.66C268.23 167.14 269.21 165.6 270.2 164.09C271.18 162.58 272.17 161.07 273.16 159.62C274.14 158.17 275.13 156.74 276.11 155.4C277.1 154.05 278.08 152.74 279.07 151.53C280.05 150.32 281.04 149.16 282.03 148.11C283.01 147.06 284 146.07 284.98 145.18C285.97 144.29 286.95 143.46 287.94 142.72C288.92 141.99 289.91 141.31 290.9 140.71C291.88 140.11 292.87 139.57 293.85 139.07C294.84 138.58 295.82 138.14 296.81 137.73C297.8 137.32 298.78 136.95 299.77 136.6C300.75 136.24 301.74 135.92 302.72 135.61C303.71 135.29 304.69 134.99 305.68 134.7C306.67 134.41 307.65 134.13 308.64 133.84C309.62 133.56 310.61 133.29 311.59 133.01C312.58 132.73 313.56 132.46 314.55 132.18C315.21 132 315.86 131.81 316.52 131.63"/><path d="M219.44 205C220.43 204.72 221.41 204.44 222.4 204.14C223.38 203.85 224.37 203.55 225.35 203.25C226.34 202.94 227.32 202.63 228.31 202.31C229.3 201.99 230.28 201.66 231.27 201.32C232.25 200.98 233.24 200.64 234.22 200.28C235.21 199.92 236.2 199.56 237.18 199.17C238.17 198.78 239.15 198.39 240.14 197.96C241.12 197.54 242.11 197.1 243.09 196.63C244.08 196.15 245.07 195.65 246.05 195.11C247.04 194.56 248.02 193.98 249.01 193.35C249.99 192.71 250.98 192.02 251.96 191.27C252.95 190.51 253.94 189.69 254.92 188.79C255.91 187.89 256.89 186.91 257.88 185.84C258.86 184.78 259.85 183.62 260.84 182.38C261.82 181.15 262.81 179.8 263.79 178.41C264.78 177.02 265.76 175.52 266.75 174C267.73 172.48 268.72 170.88 269.71 169.31C270.69 167.74 271.68 166.11 272.66 164.57C273.65 163.03 274.63 161.48 275.62 160.06C276.6 158.63 277.59 157.25 278.58 156C279.56 154.75 280.55 153.58 281.53 152.54C282.52 151.49 283.5 150.54 284.49 149.67C285.48 148.8 286.46 148.02 287.45 147.28C288.43 146.54 289.42 145.86 290.4 145.19C291.39 144.52 292.37 143.89 293.36 143.24C294.35 142.6 295.33 141.97 296.32 141.33C297.3 140.69 298.29 140.05 299.27 139.4C300.26 138.75 301.24 138.1 302.23 137.44C303.22 136.78 304.2 136.11 305.19 135.43C306.17 134.76 307.16 134.08 308.14 133.39C309.13 132.7 310.12 132.01 311.1 131.3C312.09 130.6 313.07 129.89 314.06 129.18C314.88 128.58 315.7 127.98 316.52 127.38"/><path d="M219.44 205C220.43 204.7 221.41 204.39 222.4 204.09C223.38 203.78 224.37 203.47 225.35 203.17C226.34 202.86 227.32 202.55 228.31 202.24C229.3 201.93 230.28 201.62 231.27 201.3C232.25 200.99 233.24 200.67 234.22 200.35C235.21 200.03 236.2 199.71 237.18 199.37C238.17 199.04 239.15 198.71 240.14 198.36C241.12 198.01 242.11 197.65 243.09 197.28C244.08 196.9 245.07 196.51 246.05 196.09C247.04 195.68 248.02 195.24 249.01 194.76C249.99 194.28 250.98 193.76 251.96 193.2C252.95 192.63 253.94 192.02 254.92 191.34C255.91 190.66 256.89 189.92 257.88 189.09C258.86 188.27 259.85 187.36 260.84 186.37C261.82 185.37 262.81 184.27 263.79 183.08C264.78 181.9 265.76 180.59 266.75 179.21C267.73 177.84 268.72 176.33 269.71 174.79C270.69 173.24 271.68 171.58 272.66 169.92C273.65 168.27 274.63 166.52 275.62 164.85C276.6 163.17 277.59 161.45 278.58 159.86C279.56 158.27 280.55 156.68 281.53 155.28C282.52 153.87 283.5 152.52 284.49 151.37C285.48 150.21 286.46 149.15 287.45 148.26C288.43 147.36 289.42 146.58 290.4 145.9C291.39 145.23 292.37 144.66 293.36 144.14C294.35 143.62 295.33 143.18 296.32 142.75C297.3 142.32 298.29 141.94 299.27 141.55C300.26 141.16 301.24 140.79 302.23 140.42C303.22 140.05 304.2 139.68 305.19 139.31C306.17 138.94 307.16 138.56 308.14 138.19C309.13 137.82 310.12 137.45 311.1 137.07C312.09 136.7 313.07 136.32 314.06 135.94C314.88 135.63 315.7 135.32 316.52 135"/><path d="M221.9 205C222.89 204.68 223.88 204.36 224.86 204.04C225.85 203.72 226.83 203.4 227.82 203.08C228.8 202.76 229.79 202.44 230.77 202.13C231.76 201.81 232.75 201.5 233.73 201.18C234.72 200.86 235.7 200.55 236.69 200.23C237.67 199.91 238.66 199.6 239.64 199.27C240.63 198.95 241.62 198.63 242.6 198.29C243.59 197.95 244.57 197.62 245.56 197.26C246.54 196.91 247.53 196.54 248.52 196.16C249.5 195.77 250.49 195.38 251.47 194.95C252.46 194.52 253.44 194.07 254.43 193.58C255.41 193.09 256.4 192.57 257.39 192C258.37 191.43 259.36 190.82 260.34 190.15C261.33 189.49 262.31 188.76 263.3 187.98C264.28 187.2 265.27 186.35 266.26 185.43C267.24 184.52 268.23 183.52 269.21 182.47C270.2 181.41 271.18 180.27 272.17 179.09C273.16 177.9 274.14 176.63 275.13 175.32C276.11 174.02 277.1 172.65 278.08 171.27C279.07 169.9 280.05 168.46 281.04 167.07C282.03 165.67 283.01 164.25 284 162.9C284.98 161.55 285.97 160.21 286.95 158.97C287.94 157.73 288.92 156.52 289.91 155.45C290.9 154.37 291.88 153.36 292.87 152.47C293.85 151.59 294.84 150.78 295.82 150.08C296.81 149.39 297.8 148.77 298.78 148.24C299.77 147.7 300.75 147.24 301.74 146.83C302.72 146.42 303.71 146.06 304.69 145.73C305.68 145.4 306.67 145.11 307.65 144.82C308.64 144.53 309.62 144.27 310.61 144.01C311.59 143.75 312.58 143.5 313.56 143.24C314.55 142.99 315.54 142.5 316.52 142.5C316.52 142.5 316.52 142.5 316.52 142.5"/><path d="M207.12 205C211.23 204.89 215.33 204.22 219.44 203.5C222.73 202.93 226.01 201.84 229.3 200.62C232.58 199.41 235.87 197.29 239.15 195.62C242.44 193.96 245.72 191.55 249.01 190.62C253.44 189.38 257.88 188.83 262.31 188.12C266.91 187.4 271.51 186.6 276.11 186.25C281.86 185.82 287.61 185.81 293.36 185.38C297.47 185.07 301.57 184.56 305.68 183.75C309.29 183.04 312.91 181.48 316.52 179.75"/><path d="M212.05 205C216.98 204.69 221.9 203.96 226.83 203.12C231.76 202.29 236.69 200.57 241.62 199.38C245.72 198.38 249.83 197.21 253.94 196.5C259.19 195.59 264.45 194.91 269.71 194.38C274.31 193.91 278.9 193.25 283.5 193.25C287.61 193.25 291.72 193.25 295.82 193.25C299.11 193.25 302.39 193.81 305.68 193.88C309.29 193.95 312.91 194 316.52 194"/></g>
<clipPath id="clipMR"><rect x="194.8" y="114.5" width="126.2" height="90.5"/></clipPath>
<rect class="ax" x="194.8" y="117.5" width="123.2" height="87.5"/>
<path class="tk" d="M219.44 205v-1.3M219.44 117.5v1.3M244.08 205v-1.3M244.08 117.5v1.3M268.72 205v-1.3M268.72 117.5v1.3M293.36 205v-1.3M293.36 117.5v1.3M194.8 192.5h1.3M318 192.5h-1.3M194.8 180h1.3M318 180h-1.3M194.8 167.5h1.3M318 167.5h-1.3M194.8 155h1.3M318 155h-1.3M194.8 142.5h1.3M318 142.5h-1.3M194.8 130h1.3M318 130h-1.3"/>
<text class="tl" x="194.8" y="212.5" text-anchor="middle">0</text>
<text class="tl" x="219.44" y="212.5" text-anchor="middle">5</text>
<text class="tl" x="244.08" y="212.5" text-anchor="middle">10</text>
<text class="tl" x="268.72" y="212.5" text-anchor="middle">15</text>
<text class="tl" x="293.36" y="212.5" text-anchor="middle">20</text>
<text class="tl" x="318" y="212.5" text-anchor="middle">25</text>
<text class="tl" x="192.5" y="207.1" text-anchor="end">0</text>
<text class="tl" x="192.5" y="194.6" text-anchor="end">10</text>
<text class="tl" x="192.5" y="182.1" text-anchor="end">20</text>
<text class="tl" x="192.5" y="169.6" text-anchor="end">30</text>
<text class="tl" x="192.5" y="157.1" text-anchor="end">40</text>
<text class="tl" x="192.5" y="144.6" text-anchor="end">50</text>
<text class="tl" x="192.5" y="132.1" text-anchor="end">60</text>
<text class="tl" x="192.5" y="119.6" text-anchor="end">70</text>
<text class="labR" x="256.4" y="222.2" text-anchor="middle">Strain [%]</text>
<text class="labR" transform="translate(183.2 160.55) rotate(-90)" text-anchor="middle">Stress [MPa]</text>
<g class="cv" clip-path="url(#clipBL)"><path d="M49.76 314 52.23 310.35 54.7 306.02 57.17 298.48 59.64 290.51 62.11 285.61 64.58 281.78 67.05 275.59 69.52 268.24 71.99 263.62 74.46 261.7 76.93 258.58 79.4 253.19 81.87 249.1 84.34 248.35 86.81 247.94 89.28 244.76 91.75 240.84 94.22 240.63 96.69 241.79 99.16 240.84 101.63 239.22 104.1 238.42 106.57 237.93 109.04 237.53 111.51 237.98 113.98 237.73 116.45 237.93 118.92 237.38 121.39 237.61 123.86 238.37 126.33 237.78 128.8 238.07 131.27 238.64 133.74 239.01 136.21 239.77 138.68 240.28 141.15 240.25 143.62 241.09" stroke-width="0.8"/><path d="M51.25 314 53.72 312.02 56.19 307.9 58.66 301.41 61.13 295.46 63.6 290.94 66.07 286.22 68.54 279.84 71.01 272.62 73.48 266.79 75.95 263.2 78.42 260.35 80.89 256.34 83.36 251.35 85.83 247.43 88.3 246.07 90.77 245.5 93.24 244.15 95.71 240.89 98.18 238.48 100.65 237.77 103.12 238.22 105.59 237.63 108.06 237.43 110.53 237.11 113 237.23 115.47 237.43 117.94 236.93 120.41 237.14 122.88 237.55 125.35 237.99 127.82 238.71 130.29 239.19 132.76 239.59 135.23 240.26 137.7 240.16 140.17 241.01 142.64 241.17 145.11 242.15 147.58 242.25 150.05 242.96" stroke-width="0.8"/><path d="M51.74 314 54.21 312.81 56.68 309.82 59.15 305.07 61.62 299.86 64.09 295.43 66.56 290.8 69.03 285.12 71.5 278.44 73.97 271.86 76.44 266.52 78.91 262.62 81.38 259.26 83.85 255.42 86.32 250.99 88.79 247.35 91.26 244.48 93.73 242.65 96.2 242.3 98.67 240.52 101.14 238.82 103.61 238.21 106.08 237.06 108.55 236.46 111.02 236.59 113.49 236.57 115.96 236.3 118.43 235.77 120.9 236.05 123.37 236.77 125.84 236.87 128.31 237.26 130.78 237.58 133.25 237.26 135.72 238.14 138.19 238.17 140.66 238.65 143.13 239.27 145.6 239.21 148.07 240.16 150.54 240.15 153.01 241.06 155.48 241.26 157.95 241.92 160.42 242.36 162.89 242.25 165.36 242.9 167.83 243.86" stroke-width="0.8"/><path d="M52.73 314 55.2 313.03 57.67 310.41 60.14 306.39 62.61 302.32 65.08 298.31 67.55 292.8 70.02 286.21 72.49 280.26 74.96 275.69 77.43 271.35 79.9 266.11 82.37 260.63 84.84 256.53 87.31 253.66 89.78 251.82 92.25 248.39 94.72 244.81 97.19 243.34 99.66 243.39 102.13 241.01 104.6 240.8 107.07 240.09 109.54 239.18 112.01 239.26 114.48 239.11 116.95 239.25 119.42 239.26 121.89 238.94 124.36 239.4 126.83 239.29 129.3 239.74 131.77 239.95 134.24 239.82 136.71 240.56 139.18 240.83 141.65 240.95 144.12 241.92 146.59 242.34 149.06 242.09 151.53 242.59 154 243.51 156.47 244.01 158.94 243.98 161.41 244.27 163.88 245.4 166.35 245.23 168.82 245.78" stroke-width="0.8"/><path d="M53.22 314 55.69 312.88 58.16 310.17 60.63 306.87 63.1 303.99 65.57 300.4 68.04 294.97 70.51 288.76 72.98 283.46 75.45 279.63 77.92 276.21 80.39 271.81 82.86 266.35 85.33 261.23 87.8 257.69 90.27 255.87 92.74 254.13 95.21 251.07 97.68 246.59 100.15 244.55 102.62 243.79 105.09 242.8 107.56 241.18 110.03 240.5 112.5 240.1 114.97 239.73 117.44 238.96 119.91 239.39 122.38 239.25 124.85 239.07 127.32 239.04 129.79 239.55 132.26 240.24 134.73 240.14 137.2 241.29 139.67 242.03 142.14 242.43 144.61 242.95" stroke-width="0.8"/><path d="M54.21 314 56.68 313.1 59.15 311.01 61.62 307.9 64.09 304.31 66.56 300.97 69.03 297.48 71.5 293.17 73.97 288.1 76.44 282.97 78.91 278.49 81.38 274.77 83.85 271.23 86.32 267.28 88.79 263.3 91.26 259.07 93.73 255.65 96.2 253.15 98.67 251.54 101.14 248.38 103.61 245.86 106.08 243.99 108.55 242.75 111.02 241.46 113.49 240.52 115.96 240.1 118.43 239.59 120.9 239.2 123.37 238.19 125.84 238.3 128.31 238.15 130.78 239.17 133.25 238.96 135.72 239.53 138.19 239.85 140.66 240.83 143.13 240.94 145.6 242.51 148.07 242.94 150.54 243.67" stroke-width="0.8"/><path d="M55.2 314 57.67 313.27 60.14 311.47 62.61 308.94 65.08 306.25 67.55 303.38 70.02 299.43 72.49 294.79 74.96 290.52 77.43 286.91 79.9 283.22 82.37 278.81 84.84 274.07 87.31 269.65 89.78 266.65 92.25 263.68 94.72 260.07 97.19 256.25 99.66 253.8 102.13 251.53 104.6 249.09 107.07 247.13 109.54 245.78 112.01 243.95 114.48 242.62 116.95 241.81 119.42 240.91 121.89 240.46 124.36 239.79 126.83 239.43 129.3 239.7 131.77 239.15 134.24 238.9 136.71 239.17 139.18 239.56 141.65 240.21 144.12 240.33 146.59 240.96 149.06 241.65 151.53 241.92 154 243.24" stroke-width="0.8"/><path d="M56.68 314 59.15 313.37 61.62 311.85 64.09 309.74 66.56 307.28 69.03 304.38 71.5 300.7 73.97 296.52 76.44 292.41 78.91 288.61 81.38 284.94 83.85 281.01 86.32 276.71 88.79 272.15 91.26 268.84 93.73 265.03 96.2 262.19 98.67 259.42 101.14 255.67 103.61 253.17 106.08 250.64 108.55 248.19 111.02 246.81 113.49 245.29 115.96 243.52 118.43 241.87 120.9 241.15 123.37 240.22 125.84 238.77 128.31 238.32 130.78 237.97 133.25 237.15 135.72 237.31 138.19 236.78 140.66 237.03 143.13 236.73 145.6 236.38 148.07 236.3 150.54 236.39 153.01 236.93 155.48 236.89 157.95 237.28 160.42 237.63 162.89 237.53 165.36 237.46 167.83 237.69" stroke-width="0.8"/><path d="M55.69 314C56.52 314 57.34 313.97 58.16 313.93C58.99 313.9 59.81 313.77 60.63 313.64C61.46 313.51 62.28 313.29 63.1 313.04C63.93 312.8 64.75 312.45 65.57 312.08C66.4 311.7 67.22 311.22 68.04 310.71C68.87 310.19 69.69 309.58 70.51 308.92C71.34 308.26 72.16 307.5 72.98 306.7C73.81 305.89 74.63 305 75.45 304.05C76.28 303.11 77.1 302.09 77.92 301.01C78.75 299.94 79.57 298.79 80.39 297.61C81.22 296.42 82.04 295.17 82.86 293.88C83.69 292.6 84.51 291.26 85.33 289.9C86.16 288.53 86.98 287.12 87.8 285.71C88.63 284.29 89.45 282.84 90.27 281.39C91.1 279.94 91.92 278.46 92.74 277C93.57 275.54 94.39 274.08 95.21 272.63C96.04 271.19 96.86 269.74 97.68 268.34C98.51 266.93 99.33 265.53 100.15 264.18C100.98 262.83 101.8 261.5 102.62 260.23C103.45 258.95 104.27 257.7 105.09 256.51C105.92 255.32 106.74 254.17 107.56 253.07C108.39 251.98 109.21 250.93 110.03 249.94C110.86 248.95 111.68 248.01 112.5 247.13C113.33 246.25 114.15 245.41 114.97 244.64C115.8 243.87 116.62 243.15 117.44 242.48C118.27 241.81 119.09 241.19 119.91 240.63C120.74 240.06 121.56 239.54 122.38 239.07C123.21 238.6 124.03 238.16 124.85 237.78C125.68 237.39 126.5 237.04 127.32 236.73C128.15 236.42 128.97 236.14 129.79 235.9C130.62 235.66 131.44 235.44 132.26 235.26C133.09 235.08 133.91 234.92 134.73 234.79C135.56 234.65 136.38 234.54 137.2 234.44C138.03 234.35 138.85 234.27 139.67 234.22C140.5 234.16 141.32 234.11 142.14 234.08C142.97 234.06 143.79 234.02 144.61 234.02C145.44 234.02 146.26 234.02 147.08 234.02C147.91 234.02 148.73 234.05 149.55 234.07C150.38 234.09 151.2 234.12 152.02 234.15C152.85 234.18 153.67 234.22 154.49 234.26C155.32 234.3 156.14 234.35 156.96 234.4C157.79 234.44 158.61 234.49 159.43 234.55C160.26 234.6 161.08 234.65 161.9 234.71C162.73 234.77 163.55 234.82 164.37 234.88C165.2 234.94 166.02 235 166.84 235.06C167.67 235.13 168.49 235.19 169.31 235.25C169.48 235.27 169.64 235.28 169.81 235.29"/><path d="M57.17 314C58 314 58.82 313.99 59.64 313.98C60.47 313.97 61.29 313.9 62.11 313.84C62.94 313.77 63.76 313.64 64.58 313.49C65.41 313.35 66.23 313.13 67.05 312.89C67.88 312.64 68.7 312.33 69.52 311.97C70.35 311.62 71.17 311.19 71.99 310.71C72.82 310.24 73.64 309.68 74.46 309.08C75.29 308.48 76.11 307.79 76.93 307.06C77.76 306.33 78.58 305.51 79.4 304.64C80.23 303.78 81.05 302.83 81.87 301.84C82.7 300.85 83.52 299.78 84.34 298.66C85.17 297.55 85.99 296.36 86.81 295.14C87.64 293.91 88.46 292.62 89.28 291.3C90.11 289.98 90.93 288.6 91.75 287.2C92.58 285.8 93.4 284.35 94.22 282.89C95.05 281.42 95.87 279.92 96.69 278.42C97.52 276.92 98.34 275.39 99.16 273.86C99.99 272.34 100.81 270.8 101.63 269.28C102.46 267.76 103.28 266.24 104.1 264.75C104.93 263.25 105.75 261.77 106.57 260.32C107.4 258.87 108.22 257.44 109.04 256.06C109.87 254.67 110.69 253.32 111.51 252.02C112.34 250.72 113.16 249.45 113.98 248.25C114.81 247.05 115.63 245.89 116.45 244.8C117.28 243.71 118.1 242.66 118.92 241.69C119.75 240.72 120.57 239.79 121.39 238.94C122.22 238.1 123.04 237.3 123.86 236.58C124.69 235.86 125.51 235.18 126.33 234.59C127.16 234 127.98 233.45 128.8 232.99C129.63 232.52 130.45 232.09 131.27 231.75C132.1 231.4 132.92 231.09 133.74 230.86C134.57 230.63 135.39 230.42 136.21 230.3C137.04 230.19 137.86 230.05 138.68 230.05C139.51 230.05 140.33 230.06 141.15 230.07C141.98 230.08 142.8 230.23 143.62 230.34C144.45 230.46 145.27 230.64 146.09 230.84C146.92 231.03 147.74 231.27 148.56 231.53C149.39 231.78 150.21 232.08 151.03 232.39C151.86 232.7 152.68 233.04 153.5 233.4C154.33 233.75 155.15 234.14 155.97 234.53C156.8 234.93 157.62 235.35 158.44 235.78C159.27 236.21 160.09 236.66 160.91 237.12C161.74 237.58 162.56 238.06 163.38 238.54C164.21 239.03 165.03 239.53 165.85 240.04C166.68 240.55 167.5 241.07 168.32 241.6C168.82 241.92 169.31 242.24 169.81 242.56"/><path d="M58.66 314C59.48 314 60.3 313.96 61.13 313.91C61.95 313.87 62.77 313.73 63.6 313.6C64.42 313.46 65.24 313.25 66.07 313.01C66.89 312.78 67.71 312.48 68.54 312.14C69.36 311.81 70.18 311.41 71.01 310.98C71.83 310.55 72.65 310.06 73.48 309.53C74.3 309 75.12 308.41 75.95 307.79C76.77 307.17 77.59 306.49 78.42 305.78C79.24 305.07 80.06 304.3 80.89 303.51C81.71 302.72 82.53 301.88 83.36 301.01C84.18 300.15 85 299.24 85.83 298.31C86.65 297.38 87.47 296.42 88.3 295.44C89.12 294.45 89.94 293.44 90.77 292.42C91.59 291.4 92.41 290.35 93.24 289.3C94.06 288.25 94.88 287.18 95.71 286.12C96.53 285.05 97.35 283.97 98.18 282.9C99 281.82 99.82 280.74 100.65 279.68C101.47 278.61 102.29 277.54 103.12 276.49C103.94 275.44 104.76 274.39 105.59 273.36C106.41 272.34 107.23 271.32 108.06 270.33C108.88 269.33 109.7 268.35 110.53 267.4C111.35 266.45 112.17 265.51 113 264.6C113.82 263.7 114.64 262.81 115.47 261.95C116.29 261.1 117.11 260.26 117.94 259.46C118.76 258.65 119.58 257.87 120.41 257.13C121.23 256.38 122.05 255.65 122.88 254.96C123.7 254.27 124.52 253.6 125.35 252.96C126.17 252.32 126.99 251.71 127.82 251.12C128.64 250.54 129.46 249.98 130.29 249.44C131.11 248.91 131.93 248.4 132.76 247.91C133.58 247.42 134.4 246.96 135.23 246.52C136.05 246.08 136.87 245.66 137.7 245.26C138.52 244.85 139.34 244.47 140.17 244.11C140.99 243.74 141.81 243.4 142.64 243.07C143.46 242.74 144.28 242.42 145.11 242.12C145.93 241.81 146.75 241.53 147.58 241.25C148.4 240.97 149.22 240.71 150.05 240.45C150.87 240.19 151.69 239.95 152.52 239.71C153.34 239.47 154.16 239.24 154.99 239.02C155.81 238.8 156.63 238.58 157.46 238.37C158.28 238.16 159.1 237.95 159.93 237.75C160.75 237.55 161.57 237.35 162.4 237.16C163.22 236.97 164.04 236.78 164.87 236.59C165.69 236.4 166.51 236.21 167.34 236.03C168.16 235.84 168.98 235.66 169.81 235.47"/><path d="M59.64 314C60.47 314 61.29 313.98 62.11 313.96C62.94 313.93 63.76 313.85 64.58 313.77C65.41 313.69 66.23 313.56 67.05 313.41C67.88 313.25 68.7 313.05 69.52 312.82C70.35 312.59 71.17 312.31 71.99 312C72.82 311.69 73.64 311.32 74.46 310.92C75.29 310.53 76.11 310.07 76.93 309.59C77.76 309.1 78.58 308.56 79.4 307.99C80.23 307.42 81.05 306.8 81.87 306.15C82.7 305.49 83.52 304.79 84.34 304.06C85.17 303.32 85.99 302.55 86.81 301.74C87.64 300.94 88.46 300.1 89.28 299.23C90.11 298.37 90.93 297.46 91.75 296.55C92.58 295.63 93.4 294.68 94.22 293.72C95.05 292.76 95.87 291.78 96.69 290.79C97.52 289.81 98.34 288.8 99.16 287.8C99.99 286.79 100.81 285.78 101.63 284.77C102.46 283.76 103.28 282.74 104.1 281.74C104.93 280.74 105.75 279.74 106.57 278.75C107.4 277.77 108.22 276.79 109.04 275.83C109.87 274.87 110.69 273.93 111.51 273.01C112.34 272.09 113.16 271.18 113.98 270.31C114.81 269.43 115.63 268.57 116.45 267.75C117.28 266.92 118.1 266.11 118.92 265.34C119.75 264.56 120.57 263.81 121.39 263.09C122.22 262.37 123.04 261.68 123.86 261.01C124.69 260.35 125.51 259.71 126.33 259.1C127.16 258.49 127.98 257.91 128.8 257.35C129.63 256.79 130.45 256.26 131.27 255.76C132.1 255.25 132.92 254.77 133.74 254.31C134.57 253.85 135.39 253.41 136.21 252.99C137.04 252.57 137.86 252.18 138.68 251.8C139.51 251.42 140.33 251.05 141.15 250.71C141.98 250.36 142.8 250.03 143.62 249.71C144.45 249.39 145.27 249.08 146.09 248.78C146.92 248.49 147.74 248.2 148.56 247.93C149.39 247.65 150.21 247.38 151.03 247.12C151.86 246.86 152.68 246.6 153.5 246.35C154.33 246.1 155.15 245.86 155.97 245.62C156.8 245.37 157.62 245.14 158.44 244.9C159.27 244.67 160.09 244.43 160.91 244.2C161.74 243.97 162.56 243.74 163.38 243.51C164.21 243.28 165.03 243.05 165.85 242.82C166.68 242.59 167.5 242.36 168.32 242.13C168.82 241.99 169.31 241.85 169.81 241.71"/><path d="M60.63 314C61.46 314 62.28 313.94 63.1 313.89C63.93 313.83 64.75 313.7 65.57 313.56C66.4 313.42 67.22 313.22 68.04 313.01C68.87 312.8 69.69 312.53 70.51 312.25C71.34 311.97 72.16 311.64 72.98 311.29C73.81 310.94 74.63 310.55 75.45 310.13C76.28 309.72 77.1 309.27 77.92 308.79C78.75 308.32 79.57 307.81 80.39 307.28C81.22 306.76 82.04 306.19 82.86 305.62C83.69 305.04 84.51 304.43 85.33 303.81C86.16 303.19 86.98 302.54 87.8 301.88C88.63 301.22 89.45 300.54 90.27 299.84C91.1 299.15 91.92 298.44 92.74 297.72C93.57 297 94.39 296.26 95.21 295.52C96.04 294.78 96.86 294.03 97.68 293.28C98.51 292.52 99.33 291.76 100.15 291C100.98 290.24 101.8 289.47 102.62 288.71C103.45 287.95 104.27 287.18 105.09 286.42C105.92 285.67 106.74 284.91 107.56 284.16C108.39 283.41 109.21 282.67 110.03 281.94C110.86 281.21 111.68 280.48 112.5 279.77C113.33 279.06 114.15 278.36 114.97 277.68C115.8 277 116.62 276.33 117.44 275.67C118.27 275.02 119.09 274.38 119.91 273.77C120.74 273.15 121.56 272.55 122.38 271.97C123.21 271.4 124.03 270.83 124.85 270.3C125.68 269.77 126.5 269.25 127.32 268.76C128.15 268.27 128.97 267.8 129.79 267.36C130.62 266.92 131.44 266.5 132.26 266.11C133.09 265.72 133.91 265.34 134.73 265.01C135.56 264.67 136.38 264.35 137.2 264.06C138.03 263.77 138.85 263.51 139.67 263.28C140.5 263.04 141.32 262.83 142.14 262.65C142.97 262.48 143.79 262.31 144.61 262.19C145.44 262.07 146.26 261.96 147.08 261.89C147.91 261.83 148.73 261.76 149.55 261.76C150.38 261.76 151.2 261.77 152.02 261.78C152.85 261.79 153.67 261.88 154.49 261.96C155.32 262.04 156.14 262.16 156.96 262.29C157.79 262.42 158.61 262.59 159.43 262.77C160.26 262.96 161.08 263.17 161.9 263.4C162.73 263.63 163.55 263.9 164.37 264.17C165.2 264.45 166.02 264.76 166.84 265.08C167.67 265.4 168.49 265.76 169.31 266.12C169.48 266.19 169.64 266.27 169.81 266.34"/><path d="M61.62 314C62.44 314 63.27 314 64.09 314C64.91 314 65.74 313.96 66.56 313.92C67.38 313.88 68.21 313.8 69.03 313.71C69.85 313.63 70.68 313.5 71.5 313.35C72.32 313.21 73.15 313.02 73.97 312.82C74.79 312.61 75.62 312.36 76.44 312.09C77.26 311.82 78.09 311.5 78.91 311.16C79.73 310.82 80.56 310.44 81.38 310.03C82.2 309.62 83.03 309.17 83.85 308.69C84.67 308.21 85.5 307.68 86.32 307.13C87.14 306.58 87.97 305.99 88.79 305.37C89.61 304.75 90.44 304.08 91.26 303.4C92.08 302.71 92.91 301.98 93.73 301.23C94.55 300.48 95.38 299.68 96.2 298.87C97.02 298.06 97.85 297.21 98.67 296.33C99.49 295.46 100.32 294.56 101.14 293.63C101.96 292.71 102.79 291.75 103.61 290.78C104.43 289.81 105.26 288.81 106.08 287.8C106.9 286.78 107.73 285.75 108.55 284.7C109.37 283.65 110.2 282.58 111.02 281.5C111.84 280.42 112.67 279.33 113.49 278.23C114.31 277.13 115.14 276.02 115.96 274.91C116.78 273.79 117.61 272.67 118.43 271.55C119.25 270.44 120.08 269.31 120.9 268.2C121.72 267.08 122.55 265.97 123.37 264.86C124.19 263.76 125.02 262.66 125.84 261.57C126.66 260.49 127.49 259.41 128.31 258.35C129.13 257.29 129.96 256.25 130.78 255.23C131.6 254.21 132.43 253.21 133.25 252.23C134.07 251.26 134.9 250.3 135.72 249.39C136.54 248.47 137.37 247.57 138.19 246.72C139.01 245.86 139.84 245.03 140.66 244.25C141.48 243.46 142.31 242.71 143.13 242.01C143.95 241.3 144.78 240.63 145.6 240.02C146.42 239.4 147.25 238.82 148.07 238.3C148.89 237.78 149.72 237.3 150.54 236.88C151.36 236.47 152.19 236.09 153.01 235.79C153.83 235.49 154.66 235.21 155.48 235.03C156.3 234.86 157.13 234.65 157.95 234.64C158.77 234.63 159.6 234.62 160.42 234.62C161.24 234.62 162.07 234.83 162.89 235C163.71 235.17 164.54 235.47 165.36 235.79C166.18 236.11 167.01 236.54 167.83 237.01C168.49 237.38 169.15 237.82 169.81 238.3"/><path d="M91.26 241.32 93.73 240.47 96.2 240.43 98.67 239.88 101.14 239.01 103.61 238.52 106.08 237.94 108.55 237.13 111.02 236.32 113.49 236.61 115.96 236.95 118.43 236.67 120.9 236.73 123.37 237.37 125.84 237.88 128.31 238.1 130.78 237.55 133.25 238.71 135.72 238.56 138.19 239.12 140.66 239.78 143.13 239.8 145.6 240.9 148.07 241.24 150.54 241.39 153.01 242.2 155.48 241.94" stroke-width="0.9"/><path d="M93.73 243.18 96.2 242.74 98.67 242.31 101.14 241.28 103.61 240.93 106.08 240.25 108.55 239.71 111.02 239.06 113.49 239.11 115.96 239.53 118.43 240.13 120.9 240.07 123.37 240.51 125.84 240.84 128.31 240.62 130.78 240.59 133.25 241.38 135.72 241.63 138.19 241.9 140.66 241.92 143.13 242.4 145.6 242.65 148.07 242.86 150.54 243.5 153.01 243.49 155.48 243.72 157.95 244.76" stroke-width="0.9"/><path d="M96.2 244.02 98.67 243.72 101.14 243.76 103.61 242.99 106.08 242.36 108.55 241.63 111.02 241.61 113.49 241.53 115.96 241.35 118.43 241.51 120.9 241.48 123.37 241.98 125.84 241.91 128.31 242.39 130.78 242.03 133.25 242.28 135.72 242.77 138.19 243.04 140.66 243.81 143.13 243.54 145.6 243.81 148.07 244.14 150.54 244.86 153.01 244.97 155.48 245.72" stroke-width="0.9"/><path d="M98.67 244.77 101.14 244.5 103.61 244.64 106.08 244.56 108.55 243.93 111.02 243.53 113.49 243.03 115.96 242.96 118.43 243.45 120.9 242.86 123.37 243.6 125.84 243.05 128.31 243.69 130.78 243.64 133.25 243.33 135.72 243.99 138.19 244.27 140.66 244.24 143.13 244.35 145.6 244.54 148.07 244.96 150.54 245.03 153.01 245.71 155.48 245.6 157.95 246.65 160.42 246.82" stroke-width="0.9"/><path d="M59.15 314C63.27 313.59 67.38 312.77 71.5 311.82C76.44 310.69 81.38 308.71 86.32 306.75C90.93 304.92 95.54 302.31 100.15 300.23C105.26 297.91 110.36 294.59 115.47 293.56C121.39 292.35 127.32 291.24 133.25 291.24C139.18 291.24 145.11 291.24 151.03 291.24C154.16 291.24 157.29 289.96 160.42 288.92C163.22 287.98 166.02 286.45 168.82 284.71"/><path d="M59.15 314C63.27 313.66 67.38 313.15 71.5 312.55C76.44 311.83 81.38 310.8 86.32 309.65C90.93 308.58 95.54 307.09 100.15 305.74C103.77 304.67 107.4 303.26 111.02 302.4C114.81 301.51 118.59 300.23 122.38 300.23C126 300.23 129.63 300.29 133.25 300.37C137.04 300.46 140.82 300.92 144.61 301.24C148.23 301.55 151.86 302.18 155.48 302.25C159.93 302.34 164.37 302.4 168.82 302.4"/></g>
<clipPath id="clipBL"><rect x="46.8" y="224" width="126.5" height="90"/></clipPath>
<rect class="ax" x="46.8" y="227" width="123.5" height="87"/>
<path class="tk" d="M71.5 314v-1.3M71.5 227v1.3M96.2 314v-1.3M96.2 227v1.3M120.9 314v-1.3M120.9 227v1.3M145.6 314v-1.3M145.6 227v1.3M46.8 299.5h1.3M170.3 299.5h-1.3M46.8 285h1.3M170.3 285h-1.3M46.8 270.5h1.3M170.3 270.5h-1.3M46.8 256h1.3M170.3 256h-1.3M46.8 241.5h1.3M170.3 241.5h-1.3"/>
<text class="tl" x="46.8" y="321.5" text-anchor="middle">0</text>
<text class="tl" x="71.5" y="321.5" text-anchor="middle">5</text>
<text class="tl" x="96.2" y="321.5" text-anchor="middle">10</text>
<text class="tl" x="120.9" y="321.5" text-anchor="middle">15</text>
<text class="tl" x="145.6" y="321.5" text-anchor="middle">20</text>
<text class="tl" x="170.3" y="321.5" text-anchor="middle">25</text>
<text class="tl" x="44.5" y="316.1" text-anchor="end">0</text>
<text class="tl" x="44.5" y="301.6" text-anchor="end">10</text>
<text class="tl" x="44.5" y="287.1" text-anchor="end">20</text>
<text class="tl" x="44.5" y="272.6" text-anchor="end">30</text>
<text class="tl" x="44.5" y="258.1" text-anchor="end">40</text>
<text class="tl" x="44.5" y="243.6" text-anchor="end">50</text>
<text class="tl" x="44.5" y="229.1" text-anchor="end">60</text>
<text class="labL" x="108.55" y="332.3" text-anchor="middle">Strain [%]</text>
<text class="labL" transform="translate(35.2 269.8) rotate(-90)" text-anchor="middle">Stress [MPa]</text>
<g class="cv" clip-path="url(#clipBR)"><path d="M206.73 314C207.31 314 207.88 314 208.46 314C209.03 314 209.61 312.87 210.18 311.89C210.76 310.92 211.33 309.04 211.91 307.15C212.48 305.27 213.06 302.73 213.63 300.13C214.21 297.54 214.79 294.47 215.36 291.41C215.94 288.35 216.51 284.99 217.09 281.75C217.66 278.51 218.24 275.13 218.81 271.99C219.39 268.84 219.96 265.69 220.54 262.87C221.12 260.05 221.69 257.32 222.27 254.97C222.84 252.62 223.42 250.42 223.99 248.62C224.57 246.82 225.14 245.18 225.72 243.92C226.29 242.67 226.87 241.54 227.44 240.77C228.02 240 228.6 239.31 229.17 238.94C229.75 238.56 230.32 238.16 230.9 238.14C231.47 238.11 232.05 238.1 232.62 238.1C233.2 238.1 233.77 238.37 234.35 238.57C234.92 238.77 235.5 239.08 236.08 239.38C236.65 239.68 237.23 240.04 237.8 240.39C238.38 240.75 238.95 241.14 239.53 241.52C240.1 241.91 240.68 242.32 241.25 242.72C241.83 243.13 242.4 243.55 242.98 243.96C243.56 244.38 244.13 244.8 244.71 245.23C245.28 245.65 245.86 246.08 246.43 246.51C247.01 246.94 247.58 247.38 248.16 247.81C248.73 248.25 249.31 248.69 249.89 249.13C250.46 249.57 251.04 250.01 251.61 250.46C252.19 250.9 252.76 251.35 253.34 251.8C253.91 252.25 254.49 252.7 255.06 253.16C255.64 253.61 256.21 254.07 256.79 254.53C257.37 254.99 257.94 255.45 258.52 255.91C259.09 256.38 259.67 256.84 260.24 257.31C260.82 257.78 261.39 258.25 261.97 258.72C262.54 259.2 263.12 259.67 263.69 260.15C264.27 260.63 264.85 261.11 265.42 261.59C266 262.07 266.57 262.55 267.15 263.04C267.72 263.53 268.3 264.02 268.87 264.51C269.45 265 270.02 265.49 270.6 265.99C271.17 266.48 271.75 266.98 272.33 267.48C272.9 267.98 273.48 268.49 274.05 268.99C274.63 269.5 275.2 270 275.78 270.51C276.35 271.02 276.93 271.53 277.5 272.05C278.08 272.56 278.66 273.08 279.23 273.6C279.81 274.11 280.38 274.64 280.96 275.16C281.53 275.68 282.11 276.21 282.68 276.73C283.26 277.26 283.83 277.79 284.41 278.32C284.98 278.86 285.56 279.39 286.14 279.93C286.71 280.47 287.29 281 287.86 281.55C288.44 282.09 289.01 282.63 289.59 283.18C290.16 283.72 290.74 284.27 291.31 284.82C291.89 285.37 292.46 285.93 293.04 286.48C293.62 287.04 294.19 287.59 294.77 288.15C295.01 288.39 295.26 288.63 295.51 288.87"/><path d="M203.03 314C203.61 314 204.18 313.53 204.76 313.03C205.33 312.54 205.91 311.14 206.48 309.8C207.06 308.47 207.63 306.5 208.21 304.5C208.78 302.5 209.36 300.05 209.94 297.59C210.51 295.13 211.09 292.37 211.66 289.69C212.24 287 212.81 284.15 213.39 281.46C213.96 278.76 214.54 276.02 215.11 273.51C215.69 270.99 216.27 268.52 216.84 266.32C217.42 264.11 217.99 262.01 218.57 260.19C219.14 258.37 219.72 256.68 220.29 255.25C220.87 253.83 221.44 252.54 222.02 251.49C222.59 250.44 223.17 249.51 223.75 248.77C224.32 248.04 224.9 247.4 225.47 246.91C226.05 246.43 226.62 246.02 227.2 245.72C227.77 245.43 228.35 245.18 228.92 245.01C229.5 244.85 230.07 244.71 230.65 244.63C231.23 244.55 231.8 244.48 232.38 244.46C232.95 244.44 233.53 244.42 234.1 244.42C234.68 244.42 235.25 244.45 235.83 244.46C236.4 244.48 236.98 244.51 237.56 244.55C238.13 244.58 238.71 244.61 239.28 244.65C239.86 244.69 240.43 244.73 241.01 244.77C241.58 244.81 242.16 244.85 242.73 244.89C243.31 244.93 243.88 244.98 244.46 245.02C245.04 245.06 245.61 245.11 246.19 245.15C246.76 245.19 247.34 245.24 247.91 245.28C248.49 245.33 249.06 245.37 249.64 245.42C250.21 245.46 250.79 245.51 251.36 245.55C251.94 245.6 252.52 245.64 253.09 245.69C253.67 245.73 254.24 245.78 254.82 245.82C255.39 245.87 255.97 245.92 256.54 245.96C257.12 246.01 257.69 246.06 258.27 246.1C258.84 246.15 259.42 246.2 260 246.25C260.57 246.29 261.15 246.34 261.72 246.39C262.3 246.44 262.87 246.49 263.45 246.53C264.02 246.58 264.6 246.63 265.17 246.68C265.75 246.73 266.32 246.78 266.9 246.83C267.48 246.88 268.05 246.93 268.63 246.98C269.2 247.03 269.78 247.08 270.35 247.13C270.93 247.18 271.5 247.23 272.08 247.28C272.65 247.33 273.23 247.38 273.81 247.43C274.38 247.48 274.96 247.53 275.53 247.59C276.11 247.64 276.68 247.69 277.26 247.74C277.83 247.79 278.41 247.85 278.98 247.9C279.56 247.95 280.13 248 280.71 248.06C281.29 248.11 281.86 248.16 282.44 248.22C283.01 248.27 283.59 248.32 284.16 248.38C284.74 248.43 285.31 248.49 285.89 248.54C286.46 248.59 287.04 248.65 287.61 248.7C288.19 248.76 288.77 248.81 289.34 248.87C289.92 248.92 290.49 248.98 291.07 249.04C291.64 249.09 292.22 249.15 292.79 249.2C293.37 249.26 293.94 249.32 294.52 249.37C294.85 249.4 295.18 249.44 295.51 249.47"/><path d="M204.26 314C204.84 314 205.41 313.78 205.99 313.51C206.57 313.23 207.14 312.11 207.72 311.08C208.29 310.05 208.87 308.47 209.44 306.84C210.02 305.22 210.59 303.19 211.17 301.13C211.74 299.07 212.32 296.72 212.9 294.38C213.47 292.05 214.05 289.54 214.62 287.1C215.2 284.66 215.77 282.15 216.35 279.77C216.92 277.39 217.5 275.01 218.07 272.82C218.65 270.62 219.22 268.48 219.8 266.56C220.38 264.64 220.95 262.81 221.53 261.21C222.1 259.6 222.68 258.11 223.25 256.84C223.83 255.57 224.4 254.41 224.98 253.44C225.55 252.48 226.13 251.62 226.7 250.93C227.28 250.24 227.86 249.64 228.43 249.18C229.01 248.71 229.58 248.31 230.16 248.03C230.73 247.74 231.31 247.5 231.88 247.34C232.46 247.19 233.03 247.05 233.61 246.99C234.18 246.93 234.76 246.88 235.34 246.88C235.91 246.88 236.49 246.89 237.06 246.91C237.64 246.93 238.21 247 238.79 247.05C239.36 247.1 239.94 247.17 240.51 247.24C241.09 247.3 241.67 247.38 242.24 247.46C242.82 247.53 243.39 247.61 243.97 247.69C244.54 247.77 245.12 247.85 245.69 247.93C246.27 248.01 246.84 248.09 247.42 248.16C247.99 248.24 248.57 248.32 249.15 248.4C249.72 248.47 250.3 248.55 250.87 248.62C251.45 248.7 252.02 248.77 252.6 248.84C253.17 248.91 253.75 248.98 254.32 249.05C254.9 249.12 255.47 249.19 256.05 249.26C256.63 249.33 257.2 249.39 257.78 249.46C258.35 249.52 258.93 249.59 259.5 249.65C260.08 249.71 260.65 249.77 261.23 249.83C261.8 249.89 262.38 249.95 262.95 250.01C263.53 250.06 264.11 250.12 264.68 250.17C265.26 250.23 265.83 250.28 266.41 250.34C266.98 250.39 267.56 250.44 268.13 250.49C268.71 250.54 269.28 250.59 269.86 250.63C270.44 250.68 271.01 250.73 271.59 250.77C272.16 250.82 272.74 250.86 273.31 250.9C273.89 250.95 274.46 250.99 275.04 251.03C275.61 251.07 276.19 251.11 276.76 251.14C277.34 251.18 277.92 251.22 278.49 251.25C279.07 251.29 279.64 251.32 280.22 251.36C280.79 251.39 281.37 251.42 281.94 251.45C282.52 251.48 283.09 251.51 283.67 251.54C284.24 251.56 284.82 251.59 285.4 251.62C285.97 251.64 286.55 251.67 287.12 251.69C287.7 251.71 288.27 251.73 288.85 251.75C289.42 251.77 290 251.79 290.57 251.81C291.15 251.83 291.72 251.84 292.3 251.86C292.88 251.87 293.45 251.89 294.03 251.9C294.52 251.91 295.01 251.92 295.51 251.93"/><path d="M205 314C205.58 314 206.15 314 206.73 314C207.31 314 207.88 313.28 208.46 312.6C209.03 311.91 209.61 310.25 210.18 308.77C210.76 307.29 211.33 305.41 211.91 303.5C212.48 301.6 213.06 299.42 213.63 297.26C214.21 295.09 214.79 292.77 215.36 290.49C215.94 288.22 216.51 285.86 217.09 283.61C217.66 281.35 218.24 279.09 218.81 276.95C219.39 274.82 219.96 272.72 220.54 270.79C221.12 268.86 221.69 266.99 222.27 265.31C222.84 263.62 223.42 262.03 223.99 260.62C224.57 259.2 225.14 257.89 225.72 256.76C226.29 255.62 226.87 254.58 227.44 253.72C228.02 252.85 228.6 252.06 229.17 251.44C229.75 250.81 230.32 250.26 230.9 249.84C231.47 249.43 232.05 249.06 232.62 248.83C233.2 248.6 233.77 248.38 234.35 248.31C234.92 248.23 235.5 248.16 236.08 248.16C236.65 248.16 237.23 248.25 237.8 248.32C238.38 248.39 238.95 248.55 239.53 248.69C240.1 248.84 240.68 249.03 241.25 249.22C241.83 249.41 242.4 249.63 242.98 249.85C243.56 250.06 244.13 250.3 244.71 250.53C245.28 250.76 245.86 251.01 246.43 251.24C247.01 251.48 247.58 251.72 248.16 251.96C248.73 252.19 249.31 252.43 249.89 252.66C250.46 252.89 251.04 253.11 251.61 253.33C252.19 253.55 252.76 253.76 253.34 253.97C253.91 254.18 254.49 254.38 255.06 254.57C255.64 254.76 256.21 254.95 256.79 255.12C257.37 255.3 257.94 255.47 258.52 255.63C259.09 255.8 259.67 255.95 260.24 256.09C260.82 256.24 261.39 256.38 261.97 256.51C262.54 256.64 263.12 256.76 263.69 256.87C264.27 256.98 264.85 257.09 265.42 257.18C266 257.28 266.57 257.37 267.15 257.45C267.72 257.52 268.3 257.6 268.87 257.66C269.45 257.72 270.02 257.78 270.6 257.82C271.17 257.86 271.75 257.91 272.33 257.93C272.9 257.96 273.48 257.99 274.05 257.99C274.63 258 275.2 258.01 275.78 258.01C276.35 258.01 276.93 257.99 277.5 257.97C278.08 257.95 278.66 257.92 279.23 257.88C279.81 257.84 280.38 257.79 280.96 257.74C281.53 257.69 282.11 257.62 282.68 257.55C283.26 257.48 283.83 257.4 284.41 257.31C284.98 257.22 285.56 257.13 286.14 257.02C286.71 256.92 287.29 256.8 287.86 256.68C288.44 256.56 289.01 256.43 289.59 256.29C290.16 256.15 290.74 256.01 291.31 255.85C291.89 255.7 292.46 255.53 293.04 255.36C293.62 255.19 294.19 255.01 294.77 254.82C295.01 254.74 295.26 254.66 295.51 254.57"/><path d="M205.74 314C206.32 314 206.89 314 207.47 314C208.05 314 208.62 313.27 209.2 312.65C209.77 312.03 210.35 310.84 210.92 309.66C211.5 308.48 212.07 306.93 212.65 305.33C213.22 303.73 213.8 301.86 214.37 299.95C214.95 298.05 215.53 295.95 216.1 293.86C216.68 291.76 217.25 289.55 217.83 287.39C218.4 285.23 218.98 283.01 219.55 280.89C220.13 278.77 220.7 276.65 221.28 274.67C221.85 272.68 222.43 270.73 223.01 268.94C223.58 267.15 224.16 265.43 224.73 263.88C225.31 262.33 225.88 260.87 226.46 259.58C227.03 258.29 227.61 257.1 228.18 256.07C228.76 255.05 229.34 254.11 229.91 253.33C230.49 252.55 231.06 251.85 231.64 251.29C232.21 250.73 232.79 250.23 233.36 249.86C233.94 249.48 234.51 249.15 235.09 248.93C235.66 248.71 236.24 248.51 236.82 248.41C237.39 248.31 237.97 248.21 238.54 248.21C239.12 248.21 239.69 248.22 240.27 248.23C240.84 248.25 241.42 248.35 241.99 248.43C242.57 248.5 243.14 248.62 243.72 248.73C244.3 248.84 244.87 248.97 245.45 249.1C246.02 249.24 246.6 249.38 247.17 249.52C247.75 249.66 248.32 249.81 248.9 249.96C249.47 250.11 250.05 250.26 250.62 250.41C251.2 250.56 251.78 250.7 252.35 250.85C252.93 251 253.5 251.14 254.08 251.29C254.65 251.43 255.23 251.58 255.8 251.71C256.38 251.85 256.95 251.99 257.53 252.13C258.11 252.26 258.68 252.4 259.26 252.53C259.83 252.66 260.41 252.79 260.98 252.91C261.56 253.04 262.13 253.16 262.71 253.28C263.28 253.4 263.86 253.52 264.43 253.63C265.01 253.75 265.59 253.86 266.16 253.97C266.74 254.08 267.31 254.19 267.89 254.29C268.46 254.4 269.04 254.5 269.61 254.6C270.19 254.7 270.76 254.79 271.34 254.89C271.91 254.98 272.49 255.07 273.07 255.16C273.64 255.25 274.22 255.34 274.79 255.42C275.37 255.5 275.94 255.58 276.52 255.66C277.09 255.74 277.67 255.82 278.24 255.89C278.82 255.96 279.39 256.03 279.97 256.1C280.55 256.17 281.12 256.23 281.7 256.29C282.27 256.36 282.85 256.42 283.42 256.47C284 256.53 284.57 256.59 285.15 256.64C285.72 256.69 286.3 256.74 286.88 256.78C287.45 256.83 288.03 256.88 288.6 256.92C289.18 256.96 289.75 257 290.33 257.03C290.9 257.07 291.48 257.1 292.05 257.13C292.63 257.16 293.2 257.19 293.78 257.22C294.36 257.24 294.93 257.27 295.51 257.29"/><path d="M206.73 314C207.31 314 207.88 314 208.46 314C209.03 314 209.61 313.34 210.18 312.75C210.76 312.16 211.33 310.9 211.91 309.74C212.48 308.58 213.06 307.1 213.63 305.6C214.21 304.1 214.79 302.39 215.36 300.66C215.94 298.93 216.51 297.06 217.09 295.2C217.66 293.34 218.24 291.4 218.81 289.5C219.39 287.59 219.96 285.66 220.54 283.79C221.12 281.93 221.69 280.06 222.27 278.29C222.84 276.52 223.42 274.78 223.99 273.16C224.57 271.53 225.14 269.95 225.72 268.5C226.29 267.05 226.87 265.67 227.44 264.41C228.02 263.16 228.6 261.97 229.17 260.92C229.75 259.87 230.32 258.89 230.9 258.05C231.47 257.2 232.05 256.43 232.62 255.78C233.2 255.13 233.77 254.54 234.35 254.07C234.92 253.6 235.5 253.18 236.08 252.88C236.65 252.58 237.23 252.31 237.8 252.16C238.38 252.01 238.95 251.84 239.53 251.84C240.1 251.84 240.68 251.85 241.25 251.87C241.83 251.88 242.4 252.05 242.98 252.18C243.56 252.31 244.13 252.52 244.71 252.73C245.28 252.94 245.86 253.21 246.43 253.48C247.01 253.75 247.58 254.05 248.16 254.37C248.73 254.68 249.31 255.03 249.89 255.38C250.46 255.73 251.04 256.1 251.61 256.48C252.19 256.85 252.76 257.24 253.34 257.64C253.91 258.03 254.49 258.44 255.06 258.85C255.64 259.26 256.21 259.67 256.79 260.09C257.37 260.51 257.94 260.93 258.52 261.36C259.09 261.78 259.67 262.21 260.24 262.63C260.82 263.06 261.39 263.49 261.97 263.92C262.54 264.35 263.12 264.78 263.69 265.2C264.27 265.63 264.85 266.06 265.42 266.49C266 266.92 266.57 267.35 267.15 267.77C267.72 268.2 268.3 268.63 268.87 269.05C269.45 269.48 270.02 269.9 270.6 270.32C271.17 270.75 271.75 271.17 272.33 271.59C272.9 272.01 273.48 272.43 274.05 272.85C274.63 273.27 275.2 273.68 275.78 274.1C276.35 274.51 276.93 274.93 277.5 275.34C278.08 275.75 278.66 276.16 279.23 276.57C279.81 276.98 280.38 277.39 280.96 277.8C281.53 278.21 282.11 278.61 282.68 279.02C283.26 279.42 283.83 279.83 284.41 280.23C284.98 280.63 285.56 281.03 286.14 281.43C286.71 281.83 287.29 282.23 287.86 282.62C288.44 283.02 289.01 283.41 289.59 283.81C290.16 284.2 290.74 284.59 291.31 284.98C291.89 285.38 292.46 285.76 293.04 286.15C293.62 286.54 294.19 286.93 294.77 287.31C295.01 287.48 295.26 287.64 295.51 287.81"/><path d="M207.47 314C208.05 314 208.62 314 209.2 314C209.77 314 210.35 313.48 210.92 313.02C211.5 312.57 212.07 311.59 212.65 310.69C213.22 309.8 213.8 308.67 214.37 307.52C214.95 306.36 215.53 305.05 216.1 303.7C216.68 302.36 217.25 300.9 217.83 299.43C218.4 297.96 218.98 296.41 219.55 294.86C220.13 293.31 220.7 291.71 221.28 290.13C221.85 288.55 222.43 286.95 223.01 285.38C223.58 283.81 224.16 282.24 224.73 280.71C225.31 279.18 225.88 277.67 226.46 276.21C227.03 274.75 227.61 273.32 228.18 271.95C228.76 270.58 229.34 269.25 229.91 267.98C230.49 266.72 231.06 265.5 231.64 264.35C232.21 263.21 232.79 262.11 233.36 261.09C233.94 260.06 234.51 259.09 235.09 258.19C235.66 257.29 236.24 256.44 236.82 255.67C237.39 254.89 237.97 254.17 238.54 253.51C239.12 252.86 239.69 252.25 240.27 251.71C240.84 251.17 241.42 250.67 241.99 250.24C242.57 249.8 243.14 249.41 243.72 249.07C244.3 248.74 244.87 248.44 245.45 248.19C246.02 247.95 246.6 247.73 247.17 247.57C247.75 247.41 248.32 247.26 248.9 247.17C249.47 247.08 250.05 246.99 250.62 246.98C251.2 246.96 251.78 246.95 252.35 246.95C252.93 246.95 253.5 247.02 254.08 247.08C254.65 247.14 255.23 247.24 255.8 247.34C256.38 247.44 256.95 247.56 257.53 247.7C258.11 247.83 258.68 247.99 259.26 248.15C259.83 248.31 260.41 248.48 260.98 248.66C261.56 248.85 262.13 249.04 262.71 249.24C263.28 249.44 263.86 249.65 264.43 249.86C265.01 250.07 265.59 250.29 266.16 250.51C266.74 250.73 267.31 250.96 267.89 251.19C268.46 251.41 269.04 251.65 269.61 251.88C270.19 252.11 270.76 252.34 271.34 252.58C271.91 252.81 272.49 253.05 273.07 253.28C273.64 253.52 274.22 253.75 274.79 253.99C275.37 254.22 275.94 254.45 276.52 254.69C277.09 254.92 277.67 255.15 278.24 255.38C278.82 255.61 279.39 255.83 279.97 256.06C280.55 256.29 281.12 256.51 281.7 256.73C282.27 256.95 282.85 257.17 283.42 257.39C284 257.61 284.57 257.82 285.15 258.03C285.72 258.24 286.3 258.45 286.88 258.66C287.45 258.87 288.03 259.07 288.6 259.27C289.18 259.48 289.75 259.67 290.33 259.87C290.9 260.07 291.48 260.26 292.05 260.45C292.63 260.64 293.2 260.83 293.78 261.01C294.36 261.2 294.93 261.38 295.51 261.56"/><path d="M208.21 314C208.78 314 209.36 314 209.94 314C210.51 314 211.09 313.53 211.66 313.13C212.24 312.74 212.81 311.96 213.39 311.23C213.96 310.49 214.54 309.56 215.11 308.6C215.69 307.63 216.27 306.53 216.84 305.4C217.42 304.26 217.99 303.02 218.57 301.76C219.14 300.5 219.72 299.17 220.29 297.82C220.87 296.48 221.44 295.09 222.02 293.7C222.59 292.31 223.17 290.89 223.75 289.49C224.32 288.09 224.9 286.68 225.47 285.29C226.05 283.91 226.62 282.53 227.2 281.2C227.77 279.86 228.35 278.54 228.92 277.26C229.5 275.99 230.07 274.74 230.65 273.55C231.23 272.36 231.8 271.2 232.38 270.11C232.95 269.01 233.53 267.95 234.1 266.96C234.68 265.97 235.25 265.02 235.83 264.13C236.4 263.25 236.98 262.41 237.56 261.63C238.13 260.86 238.71 260.13 239.28 259.47C239.86 258.8 240.43 258.18 241.01 257.62C241.58 257.07 242.16 256.55 242.73 256.1C243.31 255.65 243.88 255.23 244.46 254.88C245.04 254.52 245.61 254.2 246.19 253.93C246.76 253.67 247.34 253.43 247.91 253.25C248.49 253.08 249.06 252.91 249.64 252.81C250.21 252.71 250.79 252.61 251.36 252.59C251.94 252.57 252.52 252.56 253.09 252.56C253.67 252.56 254.24 252.63 254.82 252.7C255.39 252.76 255.97 252.87 256.54 252.99C257.12 253.1 257.69 253.25 258.27 253.41C258.84 253.57 259.42 253.75 260 253.94C260.57 254.14 261.15 254.35 261.72 254.58C262.3 254.8 262.87 255.04 263.45 255.29C264.02 255.54 264.6 255.8 265.17 256.07C265.75 256.34 266.32 256.63 266.9 256.92C267.48 257.21 268.05 257.5 268.63 257.81C269.2 258.11 269.78 258.42 270.35 258.74C270.93 259.06 271.5 259.38 272.08 259.71C272.65 260.03 273.23 260.36 273.81 260.7C274.38 261.03 274.96 261.37 275.53 261.72C276.11 262.06 276.68 262.4 277.26 262.75C277.83 263.1 278.41 263.45 278.98 263.8C279.56 264.15 280.13 264.51 280.71 264.86C281.29 265.22 281.86 265.58 282.44 265.93C283.01 266.29 283.59 266.65 284.16 267.01C284.74 267.38 285.31 267.74 285.89 268.1C286.46 268.47 287.04 268.83 287.61 269.2C288.19 269.56 288.77 269.93 289.34 270.3C289.92 270.66 290.49 271.03 291.07 271.4C291.64 271.77 292.22 272.14 292.79 272.51C293.37 272.88 293.94 273.25 294.52 273.62C294.85 273.83 295.18 274.04 295.51 274.25"/><path d="M209.2 314C209.77 313.27 210.35 312.55 210.92 311.85C211.5 311.14 212.07 310.45 212.65 309.77C213.22 309.08 213.8 308.41 214.37 307.74C214.95 307.07 215.53 306.4 216.1 305.73C216.68 305.06 217.25 304.39 217.83 303.71C218.4 303.02 218.98 302.34 219.55 301.62C220.13 300.9 220.7 300.17 221.28 299.41C221.85 298.64 222.43 297.85 223.01 297.02C223.58 296.19 224.16 295.31 224.73 294.4C225.31 293.48 225.88 292.51 226.46 291.5C227.03 290.49 227.61 289.42 228.18 288.31C228.76 287.2 229.34 286.04 229.91 284.84C230.49 283.65 231.06 282.4 231.64 281.14C232.21 279.88 232.79 278.58 233.36 277.3C233.94 276.01 234.51 274.7 235.09 273.44C235.66 272.17 236.24 270.9 236.82 269.7C237.39 268.51 237.97 267.33 238.54 266.25C239.12 265.17 239.69 264.13 240.27 263.2C240.84 262.27 241.42 261.39 241.99 260.63C242.57 259.87 243.14 259.17 243.72 258.58C244.3 257.99 244.87 257.45 245.45 257.01C246.02 256.58 246.6 256.19 247.17 255.88C247.75 255.56 248.32 255.29 248.9 255.08C249.47 254.86 250.05 254.68 250.62 254.54C251.2 254.39 251.78 254.27 252.35 254.18C252.93 254.09 253.5 254.01 254.08 253.96C254.65 253.91 255.23 253.86 255.8 253.84C256.38 253.83 256.95 253.82 257.53 253.82C258.11 253.82 258.68 253.85 259.26 253.88C259.83 253.91 260.41 253.96 260.98 254.02C261.56 254.08 262.13 254.15 262.71 254.24C263.28 254.32 263.86 254.43 264.43 254.54C265.01 254.65 265.59 254.78 266.16 254.91C266.74 255.05 267.31 255.21 267.89 255.37C268.46 255.53 269.04 255.71 269.61 255.91C270.19 256.1 270.76 256.3 271.34 256.52C271.91 256.74 272.49 256.97 273.07 257.21C273.64 257.46 274.22 257.72 274.79 257.99C275.37 258.26 275.94 258.54 276.52 258.84C277.09 259.13 277.67 259.44 278.24 259.77C278.82 260.09 279.39 260.43 279.97 260.78C280.55 261.13 281.12 261.49 281.7 261.87C282.27 262.24 282.85 262.63 283.42 263.03C284 263.43 284.57 263.85 285.15 264.28C285.72 264.71 286.3 265.15 286.88 265.6C287.45 266.06 288.03 266.53 288.6 267.01C289.18 267.49 289.75 267.99 290.33 268.49C290.9 269 291.48 269.52 292.05 270.06C292.63 270.59 293.2 271.14 293.78 271.7C294.36 272.26 294.93 272.83 295.51 273.42"/><path d="M210.43 314C211 313.44 211.58 312.88 212.16 312.3C212.73 311.72 213.31 311.14 213.88 310.54C214.46 309.94 215.03 309.33 215.61 308.69C216.18 308.06 216.76 307.41 217.33 306.74C217.91 306.08 218.48 305.39 219.06 304.68C219.64 303.98 220.21 303.25 220.79 302.51C221.36 301.77 221.94 301.01 222.51 300.23C223.09 299.46 223.66 298.66 224.24 297.85C224.81 297.05 225.39 296.22 225.96 295.39C226.54 294.56 227.12 293.72 227.69 292.87C228.27 292.02 228.84 291.16 229.42 290.3C229.99 289.44 230.57 288.57 231.14 287.71C231.72 286.85 232.29 285.98 232.87 285.13C233.44 284.27 234.02 283.42 234.6 282.58C235.17 281.74 235.75 280.91 236.32 280.09C236.9 279.28 237.47 278.47 238.05 277.69C238.62 276.91 239.2 276.14 239.77 275.39C240.35 274.65 240.93 273.92 241.5 273.23C242.08 272.53 242.65 271.85 243.23 271.21C243.8 270.56 244.38 269.94 244.95 269.34C245.53 268.75 246.1 268.19 246.68 267.65C247.25 267.12 247.83 266.61 248.41 266.14C248.98 265.66 249.56 265.21 250.13 264.8C250.71 264.38 251.28 263.99 251.86 263.64C252.43 263.28 253.01 262.95 253.58 262.65C254.16 262.36 254.73 262.08 255.31 261.84C255.89 261.6 256.46 261.38 257.04 261.19C257.61 261 258.19 260.83 258.76 260.69C259.34 260.55 259.91 260.43 260.49 260.34C261.06 260.25 261.64 260.17 262.22 260.12C262.79 260.08 263.37 260.03 263.94 260.03C264.52 260.03 265.09 260.05 265.67 260.06C266.24 260.08 266.82 260.14 267.39 260.2C267.97 260.26 268.54 260.34 269.12 260.43C269.7 260.53 270.27 260.64 270.85 260.77C271.42 260.89 272 261.03 272.57 261.18C273.15 261.33 273.72 261.5 274.3 261.68C274.87 261.86 275.45 262.06 276.02 262.26C276.6 262.46 277.18 262.68 277.75 262.91C278.33 263.14 278.9 263.38 279.48 263.64C280.05 263.89 280.63 264.15 281.2 264.43C281.78 264.7 282.35 264.99 282.93 265.29C283.5 265.58 284.08 265.89 284.66 266.21C285.23 266.53 285.81 266.86 286.38 267.2C286.96 267.54 287.53 267.89 288.11 268.26C288.68 268.62 289.26 268.99 289.83 269.37C290.41 269.75 290.99 270.15 291.56 270.55C292.14 270.95 292.71 271.37 293.29 271.79C293.86 272.22 294.44 272.65 295.01 273.1C295.18 273.22 295.34 273.35 295.51 273.48"/><path d="M211.66 314C212.24 314 212.81 314 213.39 314C213.96 314 214.54 313.35 215.11 312.89C215.69 312.42 216.27 311.7 216.84 311.04C217.42 310.38 217.99 309.63 218.57 308.89C219.14 308.14 219.72 307.35 220.29 306.56C220.87 305.77 221.44 304.95 222.02 304.13C222.59 303.32 223.17 302.49 223.75 301.66C224.32 300.84 224.9 300.01 225.47 299.19C226.05 298.37 226.62 297.55 227.2 296.74C227.77 295.93 228.35 295.13 228.92 294.34C229.5 293.55 230.07 292.77 230.65 292.01C231.23 291.25 231.8 290.49 232.38 289.76C232.95 289.03 233.53 288.3 234.1 287.6C234.68 286.9 235.25 286.21 235.83 285.55C236.4 284.88 236.98 284.23 237.56 283.6C238.13 282.97 238.71 282.35 239.28 281.76C239.86 281.17 240.43 280.6 241.01 280.05C241.58 279.49 242.16 278.96 242.73 278.45C243.31 277.94 243.88 277.45 244.46 276.98C245.04 276.51 245.61 276.05 246.19 275.63C246.76 275.2 247.34 274.79 247.91 274.4C248.49 274.01 249.06 273.64 249.64 273.3C250.21 272.95 250.79 272.62 251.36 272.32C251.94 272.01 252.52 271.73 253.09 271.46C253.67 271.2 254.24 270.95 254.82 270.73C255.39 270.5 255.97 270.3 256.54 270.11C257.12 269.93 257.69 269.76 258.27 269.61C258.84 269.47 259.42 269.34 260 269.23C260.57 269.12 261.15 269.03 261.72 268.96C262.3 268.89 262.87 268.83 263.45 268.8C264.02 268.77 264.6 268.75 265.17 268.75C265.75 268.75 266.32 268.77 266.9 268.8C267.48 268.83 268.05 268.89 268.63 268.95C269.2 269.02 269.78 269.11 270.35 269.21C270.93 269.3 271.5 269.43 272.08 269.55C272.65 269.68 273.23 269.84 273.81 270C274.38 270.16 274.96 270.34 275.53 270.53C276.11 270.72 276.68 270.92 277.26 271.14C277.83 271.36 278.41 271.6 278.98 271.84C279.56 272.09 280.13 272.35 280.71 272.62C281.29 272.89 281.86 273.18 282.44 273.47C283.01 273.77 283.59 274.08 284.16 274.4C284.74 274.72 285.31 275.06 285.89 275.4C286.46 275.74 287.04 276.1 287.61 276.47C288.19 276.83 288.77 277.21 289.34 277.59C289.92 277.98 290.49 278.38 291.07 278.78C291.64 279.19 292.22 279.61 292.79 280.03C293.37 280.45 293.94 280.89 294.52 281.33C294.85 281.58 295.18 281.84 295.51 282.1"/><path d="M212.9 314C213.47 313.49 214.05 312.99 214.62 312.49C215.2 311.99 215.77 311.51 216.35 311.02C216.92 310.53 217.5 310.06 218.07 309.57C218.65 309.09 219.22 308.61 219.8 308.12C220.38 307.63 220.95 307.14 221.53 306.63C222.1 306.13 222.68 305.63 223.25 305.1C223.83 304.58 224.4 304.05 224.98 303.5C225.55 302.95 226.13 302.39 226.7 301.81C227.28 301.23 227.86 300.63 228.43 300.02C229.01 299.4 229.58 298.76 230.16 298.1C230.73 297.45 231.31 296.77 231.88 296.07C232.46 295.37 233.03 294.65 233.61 293.91C234.18 293.17 234.76 292.41 235.34 291.63C235.91 290.86 236.49 290.06 237.06 289.25C237.64 288.44 238.21 287.61 238.79 286.78C239.36 285.94 239.94 285.09 240.51 284.24C241.09 283.39 241.66 282.53 242.24 281.68C242.82 280.83 243.39 279.97 243.97 279.12C244.54 278.28 245.12 277.43 245.69 276.61C246.27 275.78 246.84 274.97 247.42 274.18C247.99 273.39 248.57 272.61 249.15 271.87C249.72 271.13 250.3 270.4 250.87 269.72C251.45 269.04 252.02 268.37 252.6 267.76C253.17 267.14 253.75 266.55 254.32 266.01C254.9 265.47 255.47 264.95 256.05 264.49C256.63 264.03 257.2 263.59 257.78 263.21C258.35 262.83 258.93 262.48 259.5 262.18C260.08 261.88 260.65 261.6 261.23 261.38C261.8 261.15 262.38 260.95 262.95 260.8C263.53 260.65 264.11 260.52 264.68 260.44C265.26 260.36 265.83 260.27 266.41 260.27C266.98 260.27 267.56 260.27 268.13 260.27C268.71 260.27 269.28 260.36 269.86 260.42C270.43 260.49 271.01 260.6 271.59 260.71C272.16 260.83 272.74 260.97 273.31 261.12C273.89 261.27 274.46 261.45 275.04 261.63C275.61 261.82 276.19 262.02 276.76 262.24C277.34 262.45 277.92 262.69 278.49 262.93C279.07 263.17 279.64 263.42 280.22 263.69C280.79 263.96 281.37 264.24 281.94 264.52C282.52 264.81 283.09 265.12 283.67 265.43C284.24 265.74 284.82 266.06 285.4 266.39C285.97 266.72 286.55 267.07 287.12 267.42C287.7 267.77 288.27 268.14 288.85 268.51C289.42 268.89 290 269.27 290.57 269.66C291.15 270.06 291.72 270.46 292.3 270.88C292.88 271.29 293.45 271.72 294.03 272.15C294.52 272.52 295.01 272.9 295.51 273.29"/><path d="M214.13 314C214.7 313.65 215.28 313.3 215.85 312.96C216.43 312.62 217 312.29 217.58 311.96C218.16 311.62 218.73 311.29 219.31 310.94C219.88 310.6 220.46 310.25 221.03 309.88C221.61 309.51 222.18 309.14 222.76 308.73C223.33 308.33 223.91 307.91 224.49 307.47C225.06 307.02 225.64 306.55 226.21 306.04C226.79 305.54 227.36 305.01 227.94 304.44C228.51 303.88 229.09 303.28 229.66 302.64C230.24 302.01 230.81 301.33 231.39 300.63C231.97 299.92 232.54 299.17 233.12 298.4C233.69 297.62 234.27 296.8 234.84 295.95C235.42 295.1 235.99 294.22 236.57 293.31C237.14 292.4 237.72 291.45 238.29 290.49C238.87 289.52 239.45 288.53 240.02 287.53C240.6 286.53 241.17 285.5 241.75 284.47C242.32 283.45 242.9 282.41 243.47 281.38C244.05 280.34 244.62 279.31 245.2 278.29C245.77 277.27 246.35 276.25 246.93 275.27C247.5 274.29 248.08 273.31 248.65 272.38C249.23 271.45 249.8 270.54 250.38 269.68C250.95 268.82 251.53 267.98 252.1 267.21C252.68 266.44 253.26 265.69 253.83 265.02C254.41 264.35 254.98 263.71 255.56 263.15C256.13 262.59 256.71 262.06 257.28 261.62C257.86 261.18 258.43 260.76 259.01 260.44C259.58 260.12 260.16 259.82 260.74 259.62C261.31 259.42 261.89 259.21 262.46 259.14C263.04 259.07 263.61 259 264.19 259C264.76 259 265.34 259.09 265.91 259.17C266.49 259.25 267.06 259.44 267.64 259.62C268.22 259.81 268.79 260.06 269.37 260.33C269.94 260.6 270.52 260.93 271.09 261.27C271.67 261.62 272.24 262.01 272.82 262.42C273.39 262.83 273.97 263.27 274.54 263.74C275.12 264.2 275.7 264.7 276.27 265.21C276.85 265.72 277.42 266.26 278 266.82C278.57 267.38 279.15 267.96 279.72 268.55C280.3 269.14 280.87 269.76 281.45 270.39C282.03 271.02 282.6 271.66 283.18 272.32C283.75 272.98 284.33 273.66 284.9 274.35C285.48 275.04 286.05 275.75 286.63 276.47C287.2 277.19 287.78 277.92 288.35 278.66C288.93 279.41 289.51 280.17 290.08 280.94C290.66 281.72 291.23 282.5 291.81 283.3C292.38 284.1 292.96 284.91 293.53 285.74C294.11 286.56 294.68 287.41 295.26 288.25C295.34 288.37 295.42 288.5 295.51 288.62"/><path d="M215.36 314C215.94 314 216.51 314 217.09 314C217.66 314 218.24 314 218.81 314C219.39 314 219.96 314 220.54 314C221.12 314 221.69 314 222.27 314C222.84 314 223.42 314 223.99 314C224.57 314 225.14 313.43 225.72 312.99C226.29 312.54 226.87 311.72 227.44 311.04C228.02 310.36 228.6 309.64 229.17 308.92C229.75 308.19 230.32 307.44 230.9 306.68C231.47 305.92 232.05 305.14 232.62 304.37C233.2 303.59 233.77 302.8 234.35 302.01C234.92 301.22 235.5 300.43 236.08 299.64C236.65 298.85 237.23 298.06 237.8 297.27C238.38 296.49 238.95 295.71 239.53 294.94C240.1 294.17 240.68 293.4 241.25 292.65C241.83 291.89 242.4 291.15 242.98 290.41C243.56 289.68 244.13 288.95 244.71 288.25C245.28 287.54 245.86 286.84 246.43 286.16C247.01 285.48 247.58 284.81 248.16 284.15C248.73 283.5 249.31 282.86 249.88 282.24C250.46 281.62 251.04 281.01 251.61 280.42C252.19 279.84 252.76 279.26 253.34 278.71C253.91 278.15 254.49 277.61 255.06 277.09C255.64 276.57 256.21 276.06 256.79 275.58C257.37 275.09 257.94 274.62 258.52 274.17C259.09 273.72 259.67 273.28 260.24 272.87C260.82 272.45 261.39 272.05 261.97 271.67C262.54 271.29 263.12 270.92 263.69 270.57C264.27 270.22 264.85 269.89 265.42 269.58C266 269.26 266.57 268.96 267.15 268.68C267.72 268.4 268.3 268.14 268.87 267.89C269.45 267.64 270.02 267.4 270.6 267.19C271.17 266.97 271.75 266.76 272.33 266.58C272.9 266.39 273.48 266.22 274.05 266.06C274.63 265.9 275.2 265.76 275.78 265.63C276.35 265.5 276.93 265.38 277.5 265.28C278.08 265.18 278.65 265.09 279.23 265.01C279.81 264.94 280.38 264.87 280.96 264.82C281.53 264.77 282.11 264.72 282.68 264.7C283.26 264.67 283.83 264.64 284.41 264.64C284.98 264.64 285.56 264.65 286.14 264.66C286.71 264.66 287.29 264.7 287.86 264.73C288.44 264.76 289.01 264.81 289.59 264.86C290.16 264.91 290.74 264.97 291.31 265.04C291.89 265.1 292.46 265.18 293.04 265.27C293.62 265.35 294.19 265.44 294.77 265.54C295.34 265.64 295.92 265.74 296.49 265.85C297.07 265.96 297.64 266.08 298.22 266.2C298.79 266.33 299.37 266.45 299.94 266.59C300.52 266.72 301.1 266.86 301.67 267C302.25 267.14 302.82 267.29 303.4 267.43C303.97 267.58 304.55 267.74 305.12 267.89C305.7 268.05 306.27 268.2 306.85 268.36C307.42 268.52 308 268.69 308.58 268.85C309.15 269.02 309.73 269.18 310.3 269.35C310.88 269.52 311.45 269.68 312.03 269.85C312.6 270.02 313.18 270.19 313.75 270.36C314.33 270.53 314.91 270.69 315.48 270.86C316.06 271.03 316.63 271.2 317.21 271.36C317.37 271.41 317.54 271.46 317.7 271.51"/><path d="M205.5 314C206.07 313.9 206.65 313.37 207.22 312.8C207.8 312.22 208.37 311 208.95 309.78C209.52 308.57 210.1 306.88 210.68 305.16C211.25 303.43 211.83 301.36 212.4 299.27C212.98 297.18 213.55 294.85 214.13 292.55C214.7 290.25 215.28 287.81 215.85 285.45C216.43 283.09 217 280.68 217.58 278.4C218.16 276.12 218.73 273.85 219.31 271.76C219.88 269.67 220.46 267.64 221.03 265.8C221.61 263.96 222.18 262.22 222.76 260.67C223.33 259.12 223.91 257.68 224.49 256.43C225.06 255.18 225.64 254.03 226.21 253.06C226.79 252.08 227.36 251.2 227.94 250.47C228.51 249.73 229.09 249.08 229.66 248.54C230.24 248 230.81 247.54 231.39 247.16C231.97 246.78 232.54 246.45 233.12 246.19C233.69 245.93 234.27 245.71 234.84 245.53C235.42 245.36 235.99 245.21 236.57 245.09C237.14 244.98 237.72 244.88 238.29 244.81C238.87 244.74 239.45 244.68 240.02 244.63C240.6 244.59 241.17 244.55 241.75 244.52C242.32 244.49 242.9 244.47 243.47 244.46C244.05 244.44 244.62 244.43 245.2 244.43C245.78 244.42 246.35 244.42 246.93 244.42C247.5 244.42 248.08 244.43 248.65 244.43C249.23 244.44 249.8 244.45 250.38 244.46C250.95 244.47 251.53 244.48 252.1 244.5C252.68 244.51 253.26 244.53 253.83 244.55C254.41 244.57 254.98 244.59 255.56 244.62C256.13 244.64 256.71 244.67 257.28 244.7C257.86 244.72 258.43 244.76 259.01 244.79C259.58 244.82 260.16 244.85 260.74 244.89C261.31 244.93 261.89 244.97 262.46 245.01C263.04 245.05 263.61 245.09 264.19 245.13C264.76 245.18 265.34 245.23 265.91 245.28C266.49 245.32 267.06 245.38 267.64 245.43C268.22 245.48 268.79 245.54 269.37 245.59C269.94 245.65 270.52 245.71 271.09 245.77C271.67 245.83 272.24 245.9 272.82 245.96C273.39 246.03 273.97 246.09 274.55 246.16C275.12 246.23 275.7 246.3 276.27 246.38C276.85 246.45 277.42 246.53 278 246.6C278.57 246.68 279.15 246.76 279.72 246.84C280.3 246.92 280.87 247.01 281.45 247.09C282.03 247.18 282.6 247.27 283.18 247.36C283.75 247.45 284.33 247.54 284.9 247.63C285.48 247.73 286.05 247.82 286.63 247.92C287.2 248.02 287.78 248.12 288.35 248.22C288.93 248.33 289.51 248.43 290.08 248.54C290.66 248.64 291.23 248.75 291.81 248.86C292.38 248.97 292.96 249.09 293.53 249.2C294.11 249.31 294.68 249.43 295.26 249.55C295.34 249.57 295.42 249.58 295.51 249.6"/></g>
<clipPath id="clipBR"><rect x="194.4" y="224" width="126.3" height="90"/></clipPath>
<rect class="ax" x="194.4" y="227" width="123.3" height="87"/>
<path class="tk" d="M219.06 314v-1.3M219.06 227v1.3M243.72 314v-1.3M243.72 227v1.3M268.38 314v-1.3M268.38 227v1.3M293.04 314v-1.3M293.04 227v1.3M194.4 299.5h1.3M317.7 299.5h-1.3M194.4 285h1.3M317.7 285h-1.3M194.4 270.5h1.3M317.7 270.5h-1.3M194.4 256h1.3M317.7 256h-1.3M194.4 241.5h1.3M317.7 241.5h-1.3"/>
<text class="tl" x="194.4" y="321.5" text-anchor="middle">0</text>
<text class="tl" x="219.06" y="321.5" text-anchor="middle">10</text>
<text class="tl" x="243.72" y="321.5" text-anchor="middle">20</text>
<text class="tl" x="268.38" y="321.5" text-anchor="middle">30</text>
<text class="tl" x="293.04" y="321.5" text-anchor="middle">40</text>
<text class="tl" x="317.7" y="321.5" text-anchor="middle">50</text>
<text class="tl" x="192.1" y="316.1" text-anchor="end">0</text>
<text class="tl" x="192.1" y="301.6" text-anchor="end">10</text>
<text class="tl" x="192.1" y="287.1" text-anchor="end">20</text>
<text class="tl" x="192.1" y="272.6" text-anchor="end">30</text>
<text class="tl" x="192.1" y="258.1" text-anchor="end">40</text>
<text class="tl" x="192.1" y="243.6" text-anchor="end">50</text>
<text class="tl" x="192.1" y="229.1" text-anchor="end">60</text>
<text class="labR" x="256.05" y="332.3" text-anchor="middle">Strain [%]</text>
<text class="labR" transform="translate(182.8 269.8) rotate(-90)" text-anchor="middle">Stress [MPa]</text>

<text class="row" x="1.9" y="49.9" textLength="22.6" lengthAdjust="spacingAndGlyphs">PP-Co</text>
<text class="row" x="2.7" y="163.3" textLength="21.8" lengthAdjust="spacingAndGlyphs">PP-Ho</text>
<text class="row" x="3.5" y="270.2" textLength="20.8" lengthAdjust="spacingAndGlyphs">HDPE</text>
<text class="labL" x="108" y="342.3" text-anchor="middle">(a)</text>
<text class="labR" x="255.5" y="342.3" text-anchor="middle">(b)</text>

</svg>
</body></html>
